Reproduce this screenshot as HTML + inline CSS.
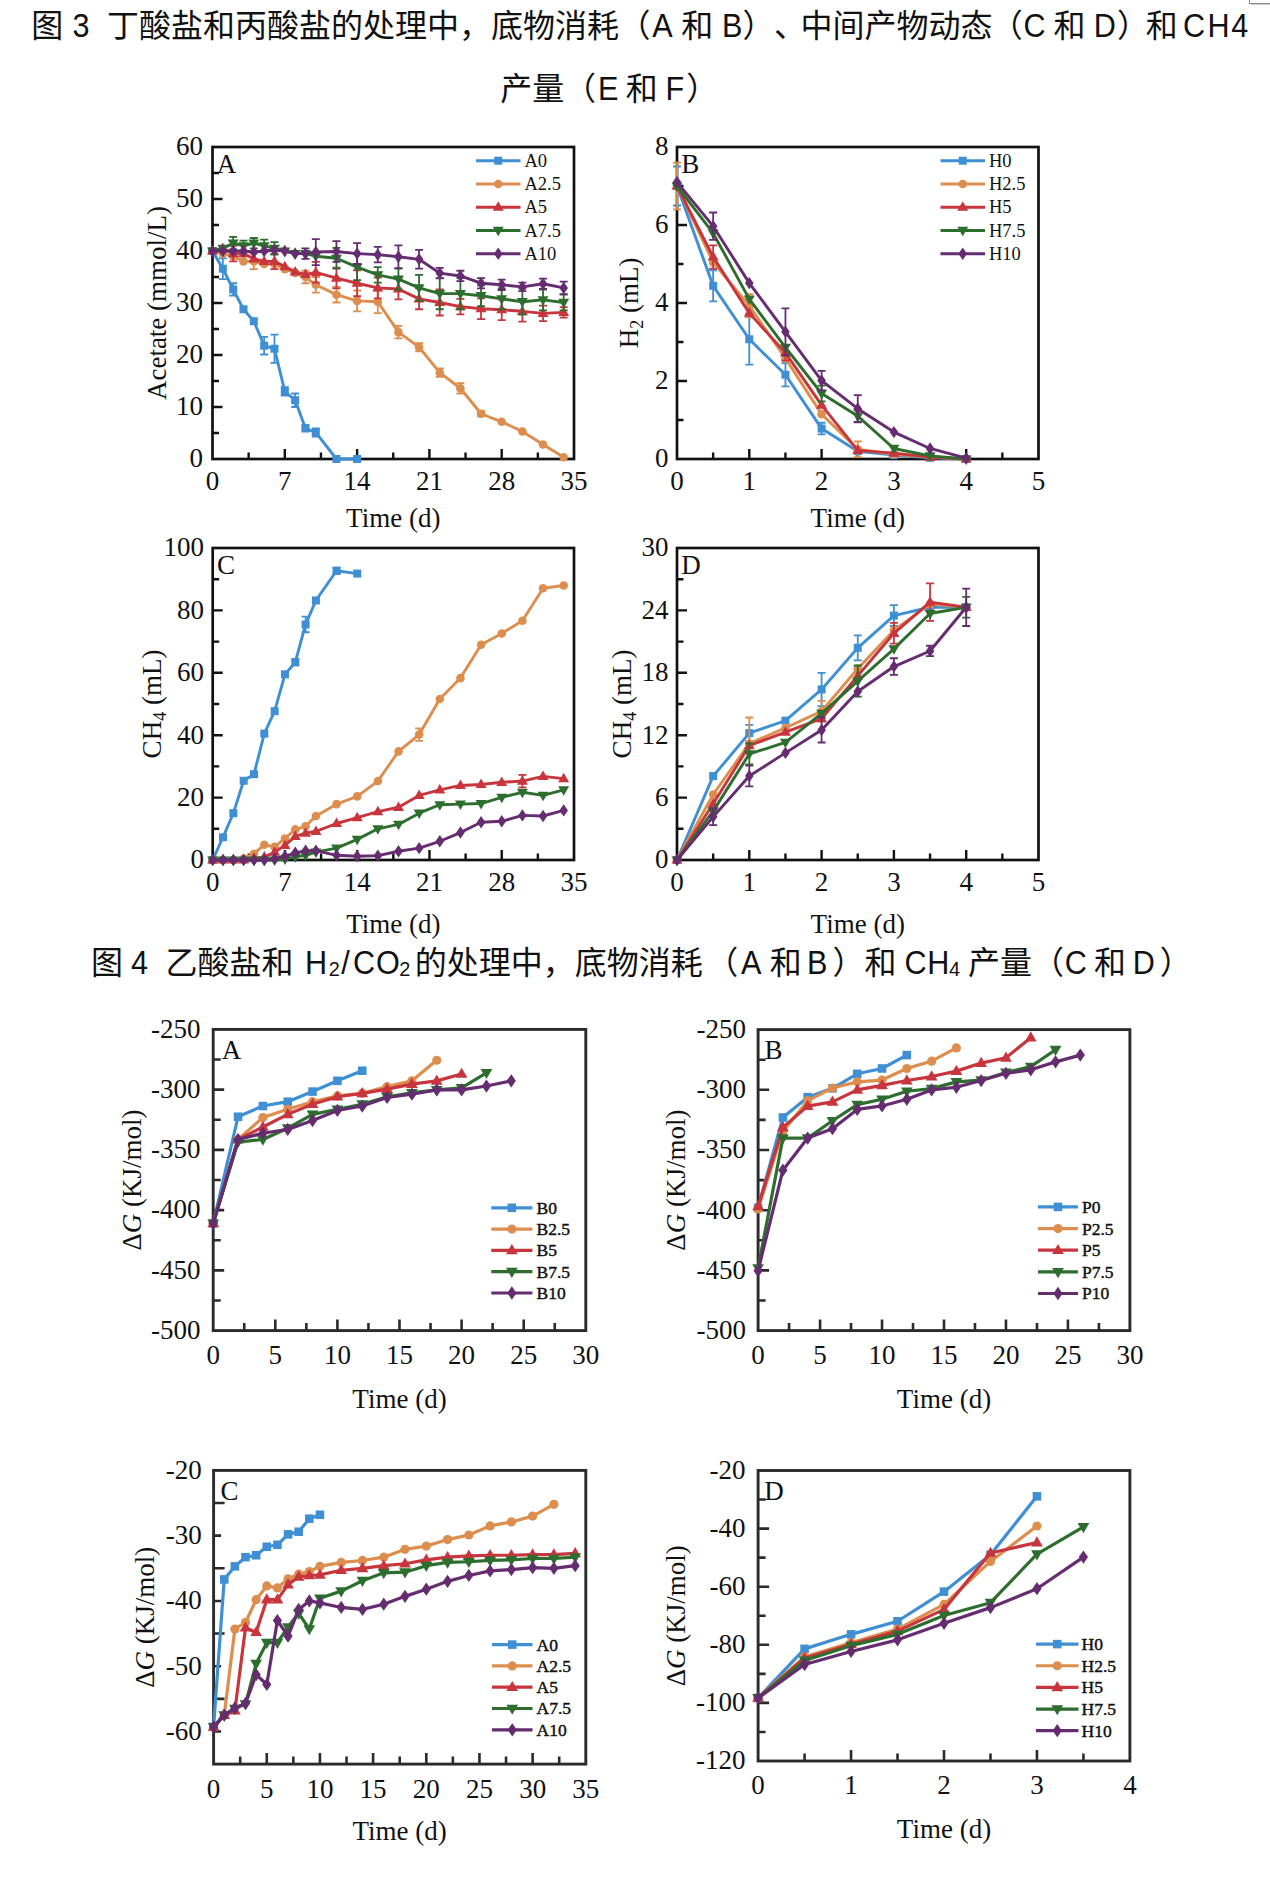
<!DOCTYPE html>
<html><head><meta charset="utf-8"><title>Figure</title>
<style>
html,body{margin:0;padding:0;background:#fff;}
body{width:1270px;height:1878px;overflow:hidden;position:relative;}
svg{position:absolute;left:0;top:0;}
.cap{position:absolute;white-space:pre;text-spacing-trim:space-all;font-family:"Liberation Sans","Noto Sans CJK SC",sans-serif;color:#111;line-height:1;}
</style></head><body>

<svg width="1270" height="1878" viewBox="0 0 1270 1878">
<g>
<rect x="212.5" y="147" width="361.5" height="312" fill="none" stroke="#111" stroke-width="2.7"/>
<path d="M248.65 459V452.5M284.8 459V449M320.95 459V452.5M357.1 459V449M393.25 459V452.5M429.4 459V449M465.55 459V452.5M501.7 459V449M537.85 459V452.5M212.5 433H219M212.5 407H222.5M212.5 381H219M212.5 355H222.5M212.5 329H219M212.5 303H222.5M212.5 277H219M212.5 251H222.5M212.5 225H219M212.5 199H222.5M212.5 173H219" stroke="#111" stroke-width="2.4" fill="none"/>
<path d="M212.5 251 L222.83 268.68 L233.16 289.48 L243.49 309.24 L253.81 321.2 L264.14 345.64 L274.47 348.76 L284.8 391.4 L295.13 400.24 L305.46 428.32 L315.79 432.48 L336.44 459 L357.1 459" fill="none" stroke="#3f8fd4" stroke-width="2.9" stroke-linejoin="round"/>
<path d="M222.83 258.28V279.08M218.83 258.28H226.83M218.83 279.08H226.83" stroke="#3f8fd4" stroke-width="1.8" fill="none"/>
<path d="M233.16 283.24V295.72M229.16 283.24H237.16M229.16 295.72H237.16" stroke="#3f8fd4" stroke-width="1.8" fill="none"/>
<path d="M264.14 336.8V354.48M260.14 336.8H268.14M260.14 354.48H268.14" stroke="#3f8fd4" stroke-width="1.8" fill="none"/>
<path d="M274.47 334.72V362.8M270.47 334.72H278.47M270.47 362.8H278.47" stroke="#3f8fd4" stroke-width="1.8" fill="none"/>
<path d="M284.8 387.24V395.56M280.8 387.24H288.8M280.8 395.56H288.8" stroke="#3f8fd4" stroke-width="1.8" fill="none"/>
<path d="M295.13 393.48V407M291.13 393.48H299.13M291.13 407H299.13" stroke="#3f8fd4" stroke-width="1.8" fill="none"/>
<path d="M305.46 425.2V431.44M301.46 425.2H309.46M301.46 431.44H309.46" stroke="#3f8fd4" stroke-width="1.8" fill="none"/>
<path d="M315.79 428.32V436.64M311.79 428.32H319.79M311.79 436.64H319.79" stroke="#3f8fd4" stroke-width="1.8" fill="none"/>
<rect x="208.5" y="247" width="8" height="8" fill="#3f8fd4"/>
<rect x="218.83" y="264.68" width="8" height="8" fill="#3f8fd4"/>
<rect x="229.16" y="285.48" width="8" height="8" fill="#3f8fd4"/>
<rect x="239.49" y="305.24" width="8" height="8" fill="#3f8fd4"/>
<rect x="249.81" y="317.2" width="8" height="8" fill="#3f8fd4"/>
<rect x="260.14" y="341.64" width="8" height="8" fill="#3f8fd4"/>
<rect x="270.47" y="344.76" width="8" height="8" fill="#3f8fd4"/>
<rect x="280.8" y="387.4" width="8" height="8" fill="#3f8fd4"/>
<rect x="291.13" y="396.24" width="8" height="8" fill="#3f8fd4"/>
<rect x="301.46" y="424.32" width="8" height="8" fill="#3f8fd4"/>
<rect x="311.79" y="428.48" width="8" height="8" fill="#3f8fd4"/>
<rect x="332.44" y="455" width="8" height="8" fill="#3f8fd4"/>
<rect x="353.1" y="455" width="8" height="8" fill="#3f8fd4"/>
<path d="M212.5 251 L222.83 253.6 L233.16 256.2 L243.49 261.4 L253.81 261.4 L264.14 264 L274.47 264 L284.8 269.2 L295.13 272.84 L305.46 277 L315.79 284.8 L336.44 294.68 L357.1 300.92 L377.76 301.7 L398.41 332.12 L419.07 347.2 L439.73 372.68 L460.39 388.28 L481.04 413.76 L501.7 421.82 L522.36 431.44 L543.01 444.44 L563.67 457.18" fill="none" stroke="#dd8e4e" stroke-width="2.9" stroke-linejoin="round"/>
<path d="M253.81 253.6V269.2M249.81 253.6H257.81M249.81 269.2H257.81" stroke="#dd8e4e" stroke-width="1.8" fill="none"/>
<path d="M305.46 270.76V283.24M301.46 270.76H309.46M301.46 283.24H309.46" stroke="#dd8e4e" stroke-width="1.8" fill="none"/>
<path d="M315.79 277V292.6M311.79 277H319.79M311.79 292.6H319.79" stroke="#dd8e4e" stroke-width="1.8" fill="none"/>
<path d="M336.44 286.88V302.48M332.44 286.88H340.44M332.44 302.48H340.44" stroke="#dd8e4e" stroke-width="1.8" fill="none"/>
<path d="M357.1 290.52V311.32M353.1 290.52H361.1M353.1 311.32H361.1" stroke="#dd8e4e" stroke-width="1.8" fill="none"/>
<path d="M377.76 290.26V313.14M373.76 290.26H381.76M373.76 313.14H381.76" stroke="#dd8e4e" stroke-width="1.8" fill="none"/>
<path d="M398.41 325.88V338.36M394.41 325.88H402.41M394.41 338.36H402.41" stroke="#dd8e4e" stroke-width="1.8" fill="none"/>
<path d="M419.07 343.04V351.36M415.07 343.04H423.07M415.07 351.36H423.07" stroke="#dd8e4e" stroke-width="1.8" fill="none"/>
<path d="M439.73 368.52V376.84M435.73 368.52H443.73M435.73 376.84H443.73" stroke="#dd8e4e" stroke-width="1.8" fill="none"/>
<path d="M460.39 383.08V393.48M456.39 383.08H464.39M456.39 393.48H464.39" stroke="#dd8e4e" stroke-width="1.8" fill="none"/>
<path d="M481.04 411.16V416.36M477.04 411.16H485.04M477.04 416.36H485.04" stroke="#dd8e4e" stroke-width="1.8" fill="none"/>
<circle cx="212.5" cy="251" r="4.3" fill="#dd8e4e"/>
<circle cx="222.83" cy="253.6" r="4.3" fill="#dd8e4e"/>
<circle cx="233.16" cy="256.2" r="4.3" fill="#dd8e4e"/>
<circle cx="243.49" cy="261.4" r="4.3" fill="#dd8e4e"/>
<circle cx="253.81" cy="261.4" r="4.3" fill="#dd8e4e"/>
<circle cx="264.14" cy="264" r="4.3" fill="#dd8e4e"/>
<circle cx="274.47" cy="264" r="4.3" fill="#dd8e4e"/>
<circle cx="284.8" cy="269.2" r="4.3" fill="#dd8e4e"/>
<circle cx="295.13" cy="272.84" r="4.3" fill="#dd8e4e"/>
<circle cx="305.46" cy="277" r="4.3" fill="#dd8e4e"/>
<circle cx="315.79" cy="284.8" r="4.3" fill="#dd8e4e"/>
<circle cx="336.44" cy="294.68" r="4.3" fill="#dd8e4e"/>
<circle cx="357.1" cy="300.92" r="4.3" fill="#dd8e4e"/>
<circle cx="377.76" cy="301.7" r="4.3" fill="#dd8e4e"/>
<circle cx="398.41" cy="332.12" r="4.3" fill="#dd8e4e"/>
<circle cx="419.07" cy="347.2" r="4.3" fill="#dd8e4e"/>
<circle cx="439.73" cy="372.68" r="4.3" fill="#dd8e4e"/>
<circle cx="460.39" cy="388.28" r="4.3" fill="#dd8e4e"/>
<circle cx="481.04" cy="413.76" r="4.3" fill="#dd8e4e"/>
<circle cx="501.7" cy="421.82" r="4.3" fill="#dd8e4e"/>
<circle cx="522.36" cy="431.44" r="4.3" fill="#dd8e4e"/>
<circle cx="543.01" cy="444.44" r="4.3" fill="#dd8e4e"/>
<circle cx="563.67" cy="457.18" r="4.3" fill="#dd8e4e"/>
<path d="M212.5 251 L222.83 248.4 L233.16 253.6 L243.49 253.6 L253.81 258.8 L264.14 261.4 L274.47 261.4 L284.8 266.6 L295.13 271.8 L305.46 274.4 L315.79 272.32 L336.44 278.04 L357.1 283.24 L377.76 287.92 L398.41 288.96 L419.07 298.84 L439.73 302.48 L460.39 306.64 L481.04 308.72 L501.7 309.76 L522.36 311.32 L543.01 313.4 L563.67 312.36" fill="none" stroke="#c8353d" stroke-width="2.9" stroke-linejoin="round"/>
<path d="M233.16 245.8V261.4M229.16 245.8H237.16M229.16 261.4H237.16" stroke="#c8353d" stroke-width="1.8" fill="none"/>
<path d="M274.47 253.6V269.2M270.47 253.6H278.47M270.47 269.2H278.47" stroke="#c8353d" stroke-width="1.8" fill="none"/>
<path d="M315.79 261.92V282.72M311.79 261.92H319.79M311.79 282.72H319.79" stroke="#c8353d" stroke-width="1.8" fill="none"/>
<path d="M336.44 267.64V288.44M332.44 267.64H340.44M332.44 288.44H340.44" stroke="#c8353d" stroke-width="1.8" fill="none"/>
<path d="M357.1 270.24V296.24M353.1 270.24H361.1M353.1 296.24H361.1" stroke="#c8353d" stroke-width="1.8" fill="none"/>
<path d="M377.76 277.52V298.32M373.76 277.52H381.76M373.76 298.32H381.76" stroke="#c8353d" stroke-width="1.8" fill="none"/>
<path d="M398.41 278.56V299.36M394.41 278.56H402.41M394.41 299.36H402.41" stroke="#c8353d" stroke-width="1.8" fill="none"/>
<path d="M419.07 288.44V309.24M415.07 288.44H423.07M415.07 309.24H423.07" stroke="#c8353d" stroke-width="1.8" fill="none"/>
<path d="M439.73 289.48V315.48M435.73 289.48H443.73M435.73 315.48H443.73" stroke="#c8353d" stroke-width="1.8" fill="none"/>
<path d="M460.39 298.84V314.44M456.39 298.84H464.39M456.39 314.44H464.39" stroke="#c8353d" stroke-width="1.8" fill="none"/>
<path d="M481.04 298.32V319.12M477.04 298.32H485.04M477.04 319.12H485.04" stroke="#c8353d" stroke-width="1.8" fill="none"/>
<path d="M501.7 299.36V320.16M497.7 299.36H505.7M497.7 320.16H505.7" stroke="#c8353d" stroke-width="1.8" fill="none"/>
<path d="M522.36 300.92V321.72M518.36 300.92H526.36M518.36 321.72H526.36" stroke="#c8353d" stroke-width="1.8" fill="none"/>
<path d="M543.01 305.6V321.2M539.01 305.6H547.01M539.01 321.2H547.01" stroke="#c8353d" stroke-width="1.8" fill="none"/>
<path d="M563.67 307.16V317.56M559.67 307.16H567.67M559.67 317.56H567.67" stroke="#c8353d" stroke-width="1.8" fill="none"/>
<path d="M212.5 245.11L218 254.61L207 254.61Z" fill="#c8353d"/>
<path d="M222.83 242.51L228.33 252.01L217.33 252.01Z" fill="#c8353d"/>
<path d="M233.16 247.71L238.66 257.21L227.66 257.21Z" fill="#c8353d"/>
<path d="M243.49 247.71L248.99 257.21L237.99 257.21Z" fill="#c8353d"/>
<path d="M253.81 252.91L259.31 262.41L248.31 262.41Z" fill="#c8353d"/>
<path d="M264.14 255.51L269.64 265.01L258.64 265.01Z" fill="#c8353d"/>
<path d="M274.47 255.51L279.97 265.01L268.97 265.01Z" fill="#c8353d"/>
<path d="M284.8 260.71L290.3 270.21L279.3 270.21Z" fill="#c8353d"/>
<path d="M295.13 265.91L300.63 275.41L289.63 275.41Z" fill="#c8353d"/>
<path d="M305.46 268.51L310.96 278.01L299.96 278.01Z" fill="#c8353d"/>
<path d="M315.79 266.43L321.29 275.93L310.29 275.93Z" fill="#c8353d"/>
<path d="M336.44 272.15L341.94 281.65L330.94 281.65Z" fill="#c8353d"/>
<path d="M357.1 277.35L362.6 286.85L351.6 286.85Z" fill="#c8353d"/>
<path d="M377.76 282.03L383.26 291.53L372.26 291.53Z" fill="#c8353d"/>
<path d="M398.41 283.07L403.91 292.57L392.91 292.57Z" fill="#c8353d"/>
<path d="M419.07 292.95L424.57 302.45L413.57 302.45Z" fill="#c8353d"/>
<path d="M439.73 296.59L445.23 306.09L434.23 306.09Z" fill="#c8353d"/>
<path d="M460.39 300.75L465.89 310.25L454.89 310.25Z" fill="#c8353d"/>
<path d="M481.04 302.83L486.54 312.33L475.54 312.33Z" fill="#c8353d"/>
<path d="M501.7 303.87L507.2 313.37L496.2 313.37Z" fill="#c8353d"/>
<path d="M522.36 305.43L527.86 314.93L516.86 314.93Z" fill="#c8353d"/>
<path d="M543.01 307.51L548.51 317.01L537.51 317.01Z" fill="#c8353d"/>
<path d="M563.67 306.47L569.17 315.97L558.17 315.97Z" fill="#c8353d"/>
<path d="M212.5 251 L222.83 248.4 L233.16 243.2 L243.49 245.8 L253.81 243.2 L264.14 245.8 L274.47 248.4 L284.8 251 L295.13 253.6 L305.46 253.6 L315.79 256.2 L336.44 258.28 L357.1 267.12 L377.76 274.92 L398.41 279.08 L419.07 287.92 L439.73 293.64 L460.39 293.64 L481.04 295.72 L501.7 298.84 L522.36 301.7 L543.01 299.88 L563.67 302.48" fill="none" stroke="#2d6e2f" stroke-width="2.9" stroke-linejoin="round"/>
<path d="M233.16 236.96V249.44M229.16 236.96H237.16M229.16 249.44H237.16" stroke="#2d6e2f" stroke-width="1.8" fill="none"/>
<path d="M243.49 240.6V251M239.49 240.6H247.49M239.49 251H247.49" stroke="#2d6e2f" stroke-width="1.8" fill="none"/>
<path d="M253.81 238V248.4M249.81 238H257.81M249.81 248.4H257.81" stroke="#2d6e2f" stroke-width="1.8" fill="none"/>
<path d="M264.14 239.56V252.04M260.14 239.56H268.14M260.14 252.04H268.14" stroke="#2d6e2f" stroke-width="1.8" fill="none"/>
<path d="M274.47 242.16V254.64M270.47 242.16H278.47M270.47 254.64H278.47" stroke="#2d6e2f" stroke-width="1.8" fill="none"/>
<path d="M336.44 247.88V268.68M332.44 247.88H340.44M332.44 268.68H340.44" stroke="#2d6e2f" stroke-width="1.8" fill="none"/>
<path d="M357.1 254.12V280.12M353.1 254.12H361.1M353.1 280.12H361.1" stroke="#2d6e2f" stroke-width="1.8" fill="none"/>
<path d="M377.76 267.12V282.72M373.76 267.12H381.76M373.76 282.72H381.76" stroke="#2d6e2f" stroke-width="1.8" fill="none"/>
<path d="M398.41 268.68V289.48M394.41 268.68H402.41M394.41 289.48H402.41" stroke="#2d6e2f" stroke-width="1.8" fill="none"/>
<path d="M419.07 274.92V300.92M415.07 274.92H423.07M415.07 300.92H423.07" stroke="#2d6e2f" stroke-width="1.8" fill="none"/>
<path d="M439.73 278.04V309.24M435.73 278.04H443.73M435.73 309.24H443.73" stroke="#2d6e2f" stroke-width="1.8" fill="none"/>
<path d="M460.39 278.04V309.24M456.39 278.04H464.39M456.39 309.24H464.39" stroke="#2d6e2f" stroke-width="1.8" fill="none"/>
<path d="M481.04 285.32V306.12M477.04 285.32H485.04M477.04 306.12H485.04" stroke="#2d6e2f" stroke-width="1.8" fill="none"/>
<path d="M501.7 288.44V309.24M497.7 288.44H505.7M497.7 309.24H505.7" stroke="#2d6e2f" stroke-width="1.8" fill="none"/>
<path d="M522.36 288.7V314.7M518.36 288.7H526.36M518.36 314.7H526.36" stroke="#2d6e2f" stroke-width="1.8" fill="none"/>
<path d="M543.01 289.48V310.28M539.01 289.48H547.01M539.01 310.28H547.01" stroke="#2d6e2f" stroke-width="1.8" fill="none"/>
<path d="M563.67 294.68V310.28M559.67 294.68H567.67M559.67 310.28H567.67" stroke="#2d6e2f" stroke-width="1.8" fill="none"/>
<path d="M212.5 256.89L218 247.39L207 247.39Z" fill="#2d6e2f"/>
<path d="M222.83 254.29L228.33 244.79L217.33 244.79Z" fill="#2d6e2f"/>
<path d="M233.16 249.09L238.66 239.59L227.66 239.59Z" fill="#2d6e2f"/>
<path d="M243.49 251.69L248.99 242.19L237.99 242.19Z" fill="#2d6e2f"/>
<path d="M253.81 249.09L259.31 239.59L248.31 239.59Z" fill="#2d6e2f"/>
<path d="M264.14 251.69L269.64 242.19L258.64 242.19Z" fill="#2d6e2f"/>
<path d="M274.47 254.29L279.97 244.79L268.97 244.79Z" fill="#2d6e2f"/>
<path d="M284.8 256.89L290.3 247.39L279.3 247.39Z" fill="#2d6e2f"/>
<path d="M295.13 259.49L300.63 249.99L289.63 249.99Z" fill="#2d6e2f"/>
<path d="M305.46 259.49L310.96 249.99L299.96 249.99Z" fill="#2d6e2f"/>
<path d="M315.79 262.09L321.29 252.59L310.29 252.59Z" fill="#2d6e2f"/>
<path d="M336.44 264.17L341.94 254.67L330.94 254.67Z" fill="#2d6e2f"/>
<path d="M357.1 273.01L362.6 263.51L351.6 263.51Z" fill="#2d6e2f"/>
<path d="M377.76 280.81L383.26 271.31L372.26 271.31Z" fill="#2d6e2f"/>
<path d="M398.41 284.97L403.91 275.47L392.91 275.47Z" fill="#2d6e2f"/>
<path d="M419.07 293.81L424.57 284.31L413.57 284.31Z" fill="#2d6e2f"/>
<path d="M439.73 299.53L445.23 290.03L434.23 290.03Z" fill="#2d6e2f"/>
<path d="M460.39 299.53L465.89 290.03L454.89 290.03Z" fill="#2d6e2f"/>
<path d="M481.04 301.61L486.54 292.11L475.54 292.11Z" fill="#2d6e2f"/>
<path d="M501.7 304.73L507.2 295.23L496.2 295.23Z" fill="#2d6e2f"/>
<path d="M522.36 307.59L527.86 298.09L516.86 298.09Z" fill="#2d6e2f"/>
<path d="M543.01 305.77L548.51 296.27L537.51 296.27Z" fill="#2d6e2f"/>
<path d="M563.67 308.37L569.17 298.87L558.17 298.87Z" fill="#2d6e2f"/>
<path d="M212.5 251 L222.83 251 L233.16 251 L243.49 251 L253.81 252.04 L264.14 251 L274.47 249.96 L284.8 251 L295.13 253.6 L305.46 253.6 L315.79 252.04 L336.44 251.52 L357.1 253.6 L377.76 254.64 L398.41 256.72 L419.07 259.32 L439.73 273.1 L460.39 275.96 L481.04 283.24 L501.7 284.8 L522.36 286.88 L543.01 283.76 L563.67 287.92" fill="none" stroke="#652c70" stroke-width="2.9" stroke-linejoin="round"/>
<path d="M305.46 248.4V258.8M301.46 248.4H309.46M301.46 258.8H309.46" stroke="#652c70" stroke-width="1.8" fill="none"/>
<path d="M315.79 239.04V265.04M311.79 239.04H319.79M311.79 265.04H319.79" stroke="#652c70" stroke-width="1.8" fill="none"/>
<path d="M336.44 241.12V261.92M332.44 241.12H340.44M332.44 261.92H340.44" stroke="#652c70" stroke-width="1.8" fill="none"/>
<path d="M357.1 243.2V264M353.1 243.2H361.1M353.1 264H361.1" stroke="#652c70" stroke-width="1.8" fill="none"/>
<path d="M377.76 246.84V262.44M373.76 246.84H381.76M373.76 262.44H381.76" stroke="#652c70" stroke-width="1.8" fill="none"/>
<path d="M398.41 245.28V268.16M394.41 245.28H402.41M394.41 268.16H402.41" stroke="#652c70" stroke-width="1.8" fill="none"/>
<path d="M419.07 249.96V268.68M415.07 249.96H423.07M415.07 268.68H423.07" stroke="#652c70" stroke-width="1.8" fill="none"/>
<path d="M439.73 267.9V278.3M435.73 267.9H443.73M435.73 278.3H443.73" stroke="#652c70" stroke-width="1.8" fill="none"/>
<path d="M460.39 270.76V281.16M456.39 270.76H464.39M456.39 281.16H464.39" stroke="#652c70" stroke-width="1.8" fill="none"/>
<path d="M481.04 278.04V288.44M477.04 278.04H485.04M477.04 288.44H485.04" stroke="#652c70" stroke-width="1.8" fill="none"/>
<path d="M501.7 279.6V290M497.7 279.6H505.7M497.7 290H505.7" stroke="#652c70" stroke-width="1.8" fill="none"/>
<path d="M522.36 282.72V291.04M518.36 282.72H526.36M518.36 291.04H526.36" stroke="#652c70" stroke-width="1.8" fill="none"/>
<path d="M543.01 278.56V288.96M539.01 278.56H547.01M539.01 288.96H547.01" stroke="#652c70" stroke-width="1.8" fill="none"/>
<path d="M563.67 281.68V294.16M559.67 281.68H567.67M559.67 294.16H567.67" stroke="#652c70" stroke-width="1.8" fill="none"/>
<path d="M212.5 244.8L216.8 251L212.5 257.2L208.2 251Z" fill="#652c70"/>
<path d="M222.83 244.8L227.13 251L222.83 257.2L218.53 251Z" fill="#652c70"/>
<path d="M233.16 244.8L237.46 251L233.16 257.2L228.86 251Z" fill="#652c70"/>
<path d="M243.49 244.8L247.79 251L243.49 257.2L239.19 251Z" fill="#652c70"/>
<path d="M253.81 245.84L258.11 252.04L253.81 258.24L249.51 252.04Z" fill="#652c70"/>
<path d="M264.14 244.8L268.44 251L264.14 257.2L259.84 251Z" fill="#652c70"/>
<path d="M274.47 243.76L278.77 249.96L274.47 256.16L270.17 249.96Z" fill="#652c70"/>
<path d="M284.8 244.8L289.1 251L284.8 257.2L280.5 251Z" fill="#652c70"/>
<path d="M295.13 247.4L299.43 253.6L295.13 259.8L290.83 253.6Z" fill="#652c70"/>
<path d="M305.46 247.4L309.76 253.6L305.46 259.8L301.16 253.6Z" fill="#652c70"/>
<path d="M315.79 245.84L320.09 252.04L315.79 258.24L311.49 252.04Z" fill="#652c70"/>
<path d="M336.44 245.32L340.74 251.52L336.44 257.72L332.14 251.52Z" fill="#652c70"/>
<path d="M357.1 247.4L361.4 253.6L357.1 259.8L352.8 253.6Z" fill="#652c70"/>
<path d="M377.76 248.44L382.06 254.64L377.76 260.84L373.46 254.64Z" fill="#652c70"/>
<path d="M398.41 250.52L402.71 256.72L398.41 262.92L394.11 256.72Z" fill="#652c70"/>
<path d="M419.07 253.12L423.37 259.32L419.07 265.52L414.77 259.32Z" fill="#652c70"/>
<path d="M439.73 266.9L444.03 273.1L439.73 279.3L435.43 273.1Z" fill="#652c70"/>
<path d="M460.39 269.76L464.69 275.96L460.39 282.16L456.09 275.96Z" fill="#652c70"/>
<path d="M481.04 277.04L485.34 283.24L481.04 289.44L476.74 283.24Z" fill="#652c70"/>
<path d="M501.7 278.6L506 284.8L501.7 291L497.4 284.8Z" fill="#652c70"/>
<path d="M522.36 280.68L526.66 286.88L522.36 293.08L518.06 286.88Z" fill="#652c70"/>
<path d="M543.01 277.56L547.31 283.76L543.01 289.96L538.71 283.76Z" fill="#652c70"/>
<path d="M563.67 281.72L567.97 287.92L563.67 294.12L559.37 287.92Z" fill="#652c70"/>
<text x="212.5" y="489.6" font-family="Liberation Serif, serif" font-size="27" text-anchor="middle" fill="#111">0</text>
<text x="284.8" y="489.6" font-family="Liberation Serif, serif" font-size="27" text-anchor="middle" fill="#111">7</text>
<text x="357.1" y="489.6" font-family="Liberation Serif, serif" font-size="27" text-anchor="middle" fill="#111">14</text>
<text x="429.4" y="489.6" font-family="Liberation Serif, serif" font-size="27" text-anchor="middle" fill="#111">21</text>
<text x="501.7" y="489.6" font-family="Liberation Serif, serif" font-size="27" text-anchor="middle" fill="#111">28</text>
<text x="574" y="489.6" font-family="Liberation Serif, serif" font-size="27" text-anchor="middle" fill="#111">35</text>
<text x="203" y="467.37" font-family="Liberation Serif, serif" font-size="27" text-anchor="end" fill="#111">0</text>
<text x="203" y="415.37" font-family="Liberation Serif, serif" font-size="27" text-anchor="end" fill="#111">10</text>
<text x="203" y="363.37" font-family="Liberation Serif, serif" font-size="27" text-anchor="end" fill="#111">20</text>
<text x="203" y="311.37" font-family="Liberation Serif, serif" font-size="27" text-anchor="end" fill="#111">30</text>
<text x="203" y="259.37" font-family="Liberation Serif, serif" font-size="27" text-anchor="end" fill="#111">40</text>
<text x="203" y="207.37" font-family="Liberation Serif, serif" font-size="27" text-anchor="end" fill="#111">50</text>
<text x="203" y="155.37" font-family="Liberation Serif, serif" font-size="27" text-anchor="end" fill="#111">60</text>
<text x="393.25" y="526.8" font-family="Liberation Serif, serif" font-size="27" text-anchor="middle" fill="#111">Time (d)</text>
<text transform="translate(166.3 303) rotate(-90)" font-family="Liberation Serif, serif" font-size="27" text-anchor="middle" fill="#111">Acetate (mmol/L)</text>
<text x="216.7" y="173" font-family="Liberation Serif, serif" font-size="27" fill="#111">A</text>
<path d="M476 160.7H520.5" stroke="#3f8fd4" stroke-width="2.9"/>
<rect x="494.25" y="156.7" width="8" height="8" fill="#3f8fd4"/>
<text x="524.5" y="166.99" font-family="Liberation Serif, serif" font-size="18.5" fill="#111" >A0</text>
<path d="M476 183.95H520.5" stroke="#dd8e4e" stroke-width="2.9"/>
<circle cx="498.25" cy="183.95" r="4.3" fill="#dd8e4e"/>
<text x="524.5" y="190.24" font-family="Liberation Serif, serif" font-size="18.5" fill="#111" >A2.5</text>
<path d="M476 207.2H520.5" stroke="#c8353d" stroke-width="2.9"/>
<path d="M498.25 201.31L503.75 210.81L492.75 210.81Z" fill="#c8353d"/>
<text x="524.5" y="213.49" font-family="Liberation Serif, serif" font-size="18.5" fill="#111" >A5</text>
<path d="M476 230.45H520.5" stroke="#2d6e2f" stroke-width="2.9"/>
<path d="M498.25 236.34L503.75 226.84L492.75 226.84Z" fill="#2d6e2f"/>
<text x="524.5" y="236.74" font-family="Liberation Serif, serif" font-size="18.5" fill="#111" >A7.5</text>
<path d="M476 253.7H520.5" stroke="#652c70" stroke-width="2.9"/>
<path d="M498.25 247.5L502.55 253.7L498.25 259.9L493.95 253.7Z" fill="#652c70"/>
<text x="524.5" y="259.99" font-family="Liberation Serif, serif" font-size="18.5" fill="#111" >A10</text>
</g>
<g>
<rect x="677" y="147" width="361.5" height="312" fill="none" stroke="#111" stroke-width="2.7"/>
<path d="M713.15 459V452.5M749.3 459V449M785.45 459V452.5M821.6 459V449M857.75 459V452.5M893.9 459V449M930.05 459V452.5M966.2 459V449M1002.35 459V452.5M677 420H683.5M677 381H687M677 342H683.5M677 303H687M677 264H683.5M677 225H687M677 186H683.5" stroke="#111" stroke-width="2.4" fill="none"/>
<path d="M677 186 L713.15 285.84 L749.3 339.27 L785.45 374.76 L821.6 428.58 L857.75 451.2 L893.9 455.1 L930.05 457.83 L966.2 459" fill="none" stroke="#3f8fd4" stroke-width="2.9" stroke-linejoin="round"/>
<path d="M677 166.5V205.5M673 166.5H681M673 205.5H681" stroke="#3f8fd4" stroke-width="1.8" fill="none"/>
<path d="M713.15 270.24V301.44M709.15 270.24H717.15M709.15 301.44H717.15" stroke="#3f8fd4" stroke-width="1.8" fill="none"/>
<path d="M749.3 313.92V364.62M745.3 313.92H753.3M745.3 364.62H753.3" stroke="#3f8fd4" stroke-width="1.8" fill="none"/>
<path d="M785.45 363.06V386.46M781.45 363.06H789.45M781.45 386.46H789.45" stroke="#3f8fd4" stroke-width="1.8" fill="none"/>
<path d="M821.6 422.73V434.43M817.6 422.73H825.6M817.6 434.43H825.6" stroke="#3f8fd4" stroke-width="1.8" fill="none"/>
<rect x="673" y="182" width="8" height="8" fill="#3f8fd4"/>
<rect x="709.15" y="281.84" width="8" height="8" fill="#3f8fd4"/>
<rect x="745.3" y="335.27" width="8" height="8" fill="#3f8fd4"/>
<rect x="781.45" y="370.76" width="8" height="8" fill="#3f8fd4"/>
<rect x="817.6" y="424.58" width="8" height="8" fill="#3f8fd4"/>
<rect x="853.75" y="447.2" width="8" height="8" fill="#3f8fd4"/>
<rect x="889.9" y="451.1" width="8" height="8" fill="#3f8fd4"/>
<rect x="926.05" y="453.83" width="8" height="8" fill="#3f8fd4"/>
<rect x="962.2" y="455" width="8" height="8" fill="#3f8fd4"/>
<path d="M677 186 L713.15 262.44 L749.3 305.73 L785.45 358.38 L821.6 414.15 L857.75 449.25 L893.9 454.32 L930.05 457.05 L966.2 459" fill="none" stroke="#dd8e4e" stroke-width="2.9" stroke-linejoin="round"/>
<path d="M677 162.6V209.4M673 162.6H681M673 209.4H681" stroke="#dd8e4e" stroke-width="1.8" fill="none"/>
<path d="M749.3 294.03V317.43M745.3 294.03H753.3M745.3 317.43H753.3" stroke="#dd8e4e" stroke-width="1.8" fill="none"/>
<path d="M857.75 441.45V457.05M853.75 441.45H861.75M853.75 457.05H861.75" stroke="#dd8e4e" stroke-width="1.8" fill="none"/>
<circle cx="677" cy="186" r="4.3" fill="#dd8e4e"/>
<circle cx="713.15" cy="262.44" r="4.3" fill="#dd8e4e"/>
<circle cx="749.3" cy="305.73" r="4.3" fill="#dd8e4e"/>
<circle cx="785.45" cy="358.38" r="4.3" fill="#dd8e4e"/>
<circle cx="821.6" cy="414.15" r="4.3" fill="#dd8e4e"/>
<circle cx="857.75" cy="449.25" r="4.3" fill="#dd8e4e"/>
<circle cx="893.9" cy="454.32" r="4.3" fill="#dd8e4e"/>
<circle cx="930.05" cy="457.05" r="4.3" fill="#dd8e4e"/>
<circle cx="966.2" cy="459" r="4.3" fill="#dd8e4e"/>
<path d="M677 186 L713.15 256.98 L749.3 313.14 L785.45 352.92 L821.6 405.18 L857.75 450.42 L893.9 453.15 L930.05 457.05 L966.2 459" fill="none" stroke="#c8353d" stroke-width="2.9" stroke-linejoin="round"/>
<path d="M713.15 245.28V268.68M709.15 245.28H717.15M709.15 268.68H717.15" stroke="#c8353d" stroke-width="1.8" fill="none"/>
<path d="M785.45 345.12V360.72M781.45 345.12H789.45M781.45 360.72H789.45" stroke="#c8353d" stroke-width="1.8" fill="none"/>
<path d="M677 180.11L682.5 189.61L671.5 189.61Z" fill="#c8353d"/>
<path d="M713.15 251.09L718.65 260.59L707.65 260.59Z" fill="#c8353d"/>
<path d="M749.3 307.25L754.8 316.75L743.8 316.75Z" fill="#c8353d"/>
<path d="M785.45 347.03L790.95 356.53L779.95 356.53Z" fill="#c8353d"/>
<path d="M821.6 399.29L827.1 408.79L816.1 408.79Z" fill="#c8353d"/>
<path d="M857.75 444.53L863.25 454.03L852.25 454.03Z" fill="#c8353d"/>
<path d="M893.9 447.26L899.4 456.76L888.4 456.76Z" fill="#c8353d"/>
<path d="M930.05 451.16L935.55 460.66L924.55 460.66Z" fill="#c8353d"/>
<path d="M966.2 453.11L971.7 462.61L960.7 462.61Z" fill="#c8353d"/>
<path d="M677 186 L713.15 233.19 L749.3 299.1 L785.45 347.46 L821.6 393.48 L857.75 416.1 L893.9 448.47 L930.05 455.88 L966.2 459" fill="none" stroke="#2d6e2f" stroke-width="2.9" stroke-linejoin="round"/>
<path d="M821.6 385.68V401.28M817.6 385.68H825.6M817.6 401.28H825.6" stroke="#2d6e2f" stroke-width="1.8" fill="none"/>
<path d="M857.75 410.25V421.95M853.75 410.25H861.75M853.75 421.95H861.75" stroke="#2d6e2f" stroke-width="1.8" fill="none"/>
<path d="M677 191.89L682.5 182.39L671.5 182.39Z" fill="#2d6e2f"/>
<path d="M713.15 239.08L718.65 229.58L707.65 229.58Z" fill="#2d6e2f"/>
<path d="M749.3 304.99L754.8 295.49L743.8 295.49Z" fill="#2d6e2f"/>
<path d="M785.45 353.35L790.95 343.85L779.95 343.85Z" fill="#2d6e2f"/>
<path d="M821.6 399.37L827.1 389.87L816.1 389.87Z" fill="#2d6e2f"/>
<path d="M857.75 421.99L863.25 412.49L852.25 412.49Z" fill="#2d6e2f"/>
<path d="M893.9 454.36L899.4 444.86L888.4 444.86Z" fill="#2d6e2f"/>
<path d="M930.05 461.77L935.55 452.27L924.55 452.27Z" fill="#2d6e2f"/>
<path d="M966.2 464.89L971.7 455.39L960.7 455.39Z" fill="#2d6e2f"/>
<path d="M677 182.1 L713.15 226.17 L749.3 283.11 L785.45 331.86 L821.6 380.61 L857.75 408.69 L893.9 432.09 L930.05 448.47 L966.2 458.22" fill="none" stroke="#652c70" stroke-width="2.9" stroke-linejoin="round"/>
<path d="M713.15 212.52V239.82M709.15 212.52H717.15M709.15 239.82H717.15" stroke="#652c70" stroke-width="1.8" fill="none"/>
<path d="M785.45 308.46V355.26M781.45 308.46H789.45M781.45 355.26H789.45" stroke="#652c70" stroke-width="1.8" fill="none"/>
<path d="M821.6 370.86V390.36M817.6 370.86H825.6M817.6 390.36H825.6" stroke="#652c70" stroke-width="1.8" fill="none"/>
<path d="M857.75 395.04V422.34M853.75 395.04H861.75M853.75 422.34H861.75" stroke="#652c70" stroke-width="1.8" fill="none"/>
<path d="M677 175.9L681.3 182.1L677 188.3L672.7 182.1Z" fill="#652c70"/>
<path d="M713.15 219.97L717.45 226.17L713.15 232.37L708.85 226.17Z" fill="#652c70"/>
<path d="M749.3 276.91L753.6 283.11L749.3 289.31L745 283.11Z" fill="#652c70"/>
<path d="M785.45 325.66L789.75 331.86L785.45 338.06L781.15 331.86Z" fill="#652c70"/>
<path d="M821.6 374.41L825.9 380.61L821.6 386.81L817.3 380.61Z" fill="#652c70"/>
<path d="M857.75 402.49L862.05 408.69L857.75 414.89L853.45 408.69Z" fill="#652c70"/>
<path d="M893.9 425.89L898.2 432.09L893.9 438.29L889.6 432.09Z" fill="#652c70"/>
<path d="M930.05 442.27L934.35 448.47L930.05 454.67L925.75 448.47Z" fill="#652c70"/>
<path d="M966.2 452.02L970.5 458.22L966.2 464.42L961.9 458.22Z" fill="#652c70"/>
<text x="677" y="489.6" font-family="Liberation Serif, serif" font-size="27" text-anchor="middle" fill="#111">0</text>
<text x="749.3" y="489.6" font-family="Liberation Serif, serif" font-size="27" text-anchor="middle" fill="#111">1</text>
<text x="821.6" y="489.6" font-family="Liberation Serif, serif" font-size="27" text-anchor="middle" fill="#111">2</text>
<text x="893.9" y="489.6" font-family="Liberation Serif, serif" font-size="27" text-anchor="middle" fill="#111">3</text>
<text x="966.2" y="489.6" font-family="Liberation Serif, serif" font-size="27" text-anchor="middle" fill="#111">4</text>
<text x="1038.5" y="489.6" font-family="Liberation Serif, serif" font-size="27" text-anchor="middle" fill="#111">5</text>
<text x="668.5" y="467.37" font-family="Liberation Serif, serif" font-size="27" text-anchor="end" fill="#111">0</text>
<text x="668.5" y="389.37" font-family="Liberation Serif, serif" font-size="27" text-anchor="end" fill="#111">2</text>
<text x="668.5" y="311.37" font-family="Liberation Serif, serif" font-size="27" text-anchor="end" fill="#111">4</text>
<text x="668.5" y="233.37" font-family="Liberation Serif, serif" font-size="27" text-anchor="end" fill="#111">6</text>
<text x="668.5" y="155.37" font-family="Liberation Serif, serif" font-size="27" text-anchor="end" fill="#111">8</text>
<text x="857.75" y="526.8" font-family="Liberation Serif, serif" font-size="27" text-anchor="middle" fill="#111">Time (d)</text>
<text transform="translate(638 303) rotate(-90)" font-family="Liberation Serif, serif" font-size="27" text-anchor="middle" fill="#111">H<tspan font-size="18" dy="5">2</tspan><tspan dy="-5"> (mL)</tspan></text>
<text x="681.2" y="173" font-family="Liberation Serif, serif" font-size="27" fill="#111">B</text>
<path d="M940.5 160.7H985" stroke="#3f8fd4" stroke-width="2.9"/>
<rect x="958.75" y="156.7" width="8" height="8" fill="#3f8fd4"/>
<text x="989" y="166.99" font-family="Liberation Serif, serif" font-size="18.5" fill="#111" >H0</text>
<path d="M940.5 183.95H985" stroke="#dd8e4e" stroke-width="2.9"/>
<circle cx="962.75" cy="183.95" r="4.3" fill="#dd8e4e"/>
<text x="989" y="190.24" font-family="Liberation Serif, serif" font-size="18.5" fill="#111" >H2.5</text>
<path d="M940.5 207.2H985" stroke="#c8353d" stroke-width="2.9"/>
<path d="M962.75 201.31L968.25 210.81L957.25 210.81Z" fill="#c8353d"/>
<text x="989" y="213.49" font-family="Liberation Serif, serif" font-size="18.5" fill="#111" >H5</text>
<path d="M940.5 230.45H985" stroke="#2d6e2f" stroke-width="2.9"/>
<path d="M962.75 236.34L968.25 226.84L957.25 226.84Z" fill="#2d6e2f"/>
<text x="989" y="236.74" font-family="Liberation Serif, serif" font-size="18.5" fill="#111" >H7.5</text>
<path d="M940.5 253.7H985" stroke="#652c70" stroke-width="2.9"/>
<path d="M962.75 247.5L967.05 253.7L962.75 259.9L958.45 253.7Z" fill="#652c70"/>
<text x="989" y="259.99" font-family="Liberation Serif, serif" font-size="18.5" fill="#111" >H10</text>
</g>
<g>
<rect x="212.7" y="548" width="361.3" height="312" fill="none" stroke="#111" stroke-width="2.7"/>
<path d="M248.83 860V853.5M284.96 860V850M321.09 860V853.5M357.22 860V850M393.35 860V853.5M429.48 860V850M465.61 860V853.5M501.74 860V850M537.87 860V853.5M212.7 828.8H219.2M212.7 797.6H222.7M212.7 766.4H219.2M212.7 735.2H222.7M212.7 704H219.2M212.7 672.8H222.7M212.7 641.6H219.2M212.7 610.4H222.7M212.7 579.2H219.2" stroke="#111" stroke-width="2.4" fill="none"/>
<path d="M212.7 860 L223.02 837.22 L233.35 813.2 L243.67 780.75 L253.99 774.2 L264.31 733.64 L274.64 711.18 L284.96 674.36 L295.28 662.19 L305.61 624.44 L315.93 600.42 L336.57 570.78 L357.22 573.58" fill="none" stroke="#3f8fd4" stroke-width="2.9" stroke-linejoin="round"/>
<path d="M295.28 659.07V665.31M291.28 659.07H299.28M291.28 665.31H299.28" stroke="#3f8fd4" stroke-width="1.8" fill="none"/>
<path d="M305.61 616.64V632.24M301.61 616.64H309.61M301.61 632.24H309.61" stroke="#3f8fd4" stroke-width="1.8" fill="none"/>
<path d="M336.57 567.66V573.9M332.57 567.66H340.57M332.57 573.9H340.57" stroke="#3f8fd4" stroke-width="1.8" fill="none"/>
<rect x="208.7" y="856" width="8" height="8" fill="#3f8fd4"/>
<rect x="219.02" y="833.22" width="8" height="8" fill="#3f8fd4"/>
<rect x="229.35" y="809.2" width="8" height="8" fill="#3f8fd4"/>
<rect x="239.67" y="776.75" width="8" height="8" fill="#3f8fd4"/>
<rect x="249.99" y="770.2" width="8" height="8" fill="#3f8fd4"/>
<rect x="260.31" y="729.64" width="8" height="8" fill="#3f8fd4"/>
<rect x="270.64" y="707.18" width="8" height="8" fill="#3f8fd4"/>
<rect x="280.96" y="670.36" width="8" height="8" fill="#3f8fd4"/>
<rect x="291.28" y="658.19" width="8" height="8" fill="#3f8fd4"/>
<rect x="301.61" y="620.44" width="8" height="8" fill="#3f8fd4"/>
<rect x="311.93" y="596.42" width="8" height="8" fill="#3f8fd4"/>
<rect x="332.57" y="566.78" width="8" height="8" fill="#3f8fd4"/>
<rect x="353.22" y="569.58" width="8" height="8" fill="#3f8fd4"/>
<path d="M212.7 860 L223.02 860 L233.35 860 L243.67 858.44 L253.99 853.76 L264.31 844.71 L274.64 846.9 L284.96 838.47 L295.28 829.42 L305.61 826.3 L315.93 816.01 L336.57 804.15 L357.22 796.35 L377.87 781.06 L398.51 751.42 L419.16 734.58 L439.8 699.01 L460.45 678.1 L481.09 644.72 L501.74 633.49 L522.39 620.7 L543.03 588.25 L563.68 585.44" fill="none" stroke="#dd8e4e" stroke-width="2.9" stroke-linejoin="round"/>
<path d="M419.16 728.34V740.82M415.16 728.34H423.16M415.16 740.82H423.16" stroke="#dd8e4e" stroke-width="1.8" fill="none"/>
<circle cx="212.7" cy="860" r="4.3" fill="#dd8e4e"/>
<circle cx="223.02" cy="860" r="4.3" fill="#dd8e4e"/>
<circle cx="233.35" cy="860" r="4.3" fill="#dd8e4e"/>
<circle cx="243.67" cy="858.44" r="4.3" fill="#dd8e4e"/>
<circle cx="253.99" cy="853.76" r="4.3" fill="#dd8e4e"/>
<circle cx="264.31" cy="844.71" r="4.3" fill="#dd8e4e"/>
<circle cx="274.64" cy="846.9" r="4.3" fill="#dd8e4e"/>
<circle cx="284.96" cy="838.47" r="4.3" fill="#dd8e4e"/>
<circle cx="295.28" cy="829.42" r="4.3" fill="#dd8e4e"/>
<circle cx="305.61" cy="826.3" r="4.3" fill="#dd8e4e"/>
<circle cx="315.93" cy="816.01" r="4.3" fill="#dd8e4e"/>
<circle cx="336.57" cy="804.15" r="4.3" fill="#dd8e4e"/>
<circle cx="357.22" cy="796.35" r="4.3" fill="#dd8e4e"/>
<circle cx="377.87" cy="781.06" r="4.3" fill="#dd8e4e"/>
<circle cx="398.51" cy="751.42" r="4.3" fill="#dd8e4e"/>
<circle cx="419.16" cy="734.58" r="4.3" fill="#dd8e4e"/>
<circle cx="439.8" cy="699.01" r="4.3" fill="#dd8e4e"/>
<circle cx="460.45" cy="678.1" r="4.3" fill="#dd8e4e"/>
<circle cx="481.09" cy="644.72" r="4.3" fill="#dd8e4e"/>
<circle cx="501.74" cy="633.49" r="4.3" fill="#dd8e4e"/>
<circle cx="522.39" cy="620.7" r="4.3" fill="#dd8e4e"/>
<circle cx="543.03" cy="588.25" r="4.3" fill="#dd8e4e"/>
<circle cx="563.68" cy="585.44" r="4.3" fill="#dd8e4e"/>
<path d="M212.7 860 L223.02 860 L233.35 860 L243.67 860 L253.99 858.44 L264.31 856.88 L274.64 852.2 L284.96 845.34 L295.28 836.29 L305.61 833.17 L315.93 831.3 L336.57 823.5 L357.22 817.57 L377.87 811.64 L398.51 807.27 L419.16 795.42 L439.8 789.8 L460.45 785.43 L481.09 784.5 L501.74 782.31 L522.39 781.06 L543.03 776.38 L563.68 778.57" fill="none" stroke="#c8353d" stroke-width="2.9" stroke-linejoin="round"/>
<path d="M522.39 774.82V787.3M518.39 774.82H526.39M518.39 787.3H526.39" stroke="#c8353d" stroke-width="1.8" fill="none"/>
<path d="M212.7 854.11L218.2 863.61L207.2 863.61Z" fill="#c8353d"/>
<path d="M223.02 854.11L228.52 863.61L217.52 863.61Z" fill="#c8353d"/>
<path d="M233.35 854.11L238.85 863.61L227.85 863.61Z" fill="#c8353d"/>
<path d="M243.67 854.11L249.17 863.61L238.17 863.61Z" fill="#c8353d"/>
<path d="M253.99 852.55L259.49 862.05L248.49 862.05Z" fill="#c8353d"/>
<path d="M264.31 850.99L269.81 860.49L258.81 860.49Z" fill="#c8353d"/>
<path d="M274.64 846.31L280.14 855.81L269.14 855.81Z" fill="#c8353d"/>
<path d="M284.96 839.45L290.46 848.95L279.46 848.95Z" fill="#c8353d"/>
<path d="M295.28 830.4L300.78 839.9L289.78 839.9Z" fill="#c8353d"/>
<path d="M305.61 827.28L311.11 836.78L300.11 836.78Z" fill="#c8353d"/>
<path d="M315.93 825.41L321.43 834.91L310.43 834.91Z" fill="#c8353d"/>
<path d="M336.57 817.61L342.07 827.11L331.07 827.11Z" fill="#c8353d"/>
<path d="M357.22 811.68L362.72 821.18L351.72 821.18Z" fill="#c8353d"/>
<path d="M377.87 805.75L383.37 815.25L372.37 815.25Z" fill="#c8353d"/>
<path d="M398.51 801.38L404.01 810.88L393.01 810.88Z" fill="#c8353d"/>
<path d="M419.16 789.53L424.66 799.03L413.66 799.03Z" fill="#c8353d"/>
<path d="M439.8 783.91L445.3 793.41L434.3 793.41Z" fill="#c8353d"/>
<path d="M460.45 779.54L465.95 789.04L454.95 789.04Z" fill="#c8353d"/>
<path d="M481.09 778.61L486.59 788.11L475.59 788.11Z" fill="#c8353d"/>
<path d="M501.74 776.42L507.24 785.92L496.24 785.92Z" fill="#c8353d"/>
<path d="M522.39 775.17L527.89 784.67L516.89 784.67Z" fill="#c8353d"/>
<path d="M543.03 770.49L548.53 779.99L537.53 779.99Z" fill="#c8353d"/>
<path d="M563.68 772.68L569.18 782.18L558.18 782.18Z" fill="#c8353d"/>
<path d="M212.7 860 L223.02 860 L233.35 860 L243.67 860 L253.99 860 L264.31 860 L274.64 860 L284.96 859.06 L295.28 856.88 L305.61 855.32 L315.93 852.2 L336.57 848.14 L357.22 839.41 L377.87 828.8 L398.51 824.43 L419.16 813.2 L439.8 804.78 L460.45 804.15 L481.09 803.53 L501.74 797.29 L522.39 792.3 L543.03 795.42 L563.68 789.8" fill="none" stroke="#2d6e2f" stroke-width="2.9" stroke-linejoin="round"/>
<path d="M212.7 865.89L218.2 856.39L207.2 856.39Z" fill="#2d6e2f"/>
<path d="M223.02 865.89L228.52 856.39L217.52 856.39Z" fill="#2d6e2f"/>
<path d="M233.35 865.89L238.85 856.39L227.85 856.39Z" fill="#2d6e2f"/>
<path d="M243.67 865.89L249.17 856.39L238.17 856.39Z" fill="#2d6e2f"/>
<path d="M253.99 865.89L259.49 856.39L248.49 856.39Z" fill="#2d6e2f"/>
<path d="M264.31 865.89L269.81 856.39L258.81 856.39Z" fill="#2d6e2f"/>
<path d="M274.64 865.89L280.14 856.39L269.14 856.39Z" fill="#2d6e2f"/>
<path d="M284.96 864.95L290.46 855.45L279.46 855.45Z" fill="#2d6e2f"/>
<path d="M295.28 862.77L300.78 853.27L289.78 853.27Z" fill="#2d6e2f"/>
<path d="M305.61 861.21L311.11 851.71L300.11 851.71Z" fill="#2d6e2f"/>
<path d="M315.93 858.09L321.43 848.59L310.43 848.59Z" fill="#2d6e2f"/>
<path d="M336.57 854.03L342.07 844.53L331.07 844.53Z" fill="#2d6e2f"/>
<path d="M357.22 845.3L362.72 835.8L351.72 835.8Z" fill="#2d6e2f"/>
<path d="M377.87 834.69L383.37 825.19L372.37 825.19Z" fill="#2d6e2f"/>
<path d="M398.51 830.32L404.01 820.82L393.01 820.82Z" fill="#2d6e2f"/>
<path d="M419.16 819.09L424.66 809.59L413.66 809.59Z" fill="#2d6e2f"/>
<path d="M439.8 810.67L445.3 801.17L434.3 801.17Z" fill="#2d6e2f"/>
<path d="M460.45 810.04L465.95 800.54L454.95 800.54Z" fill="#2d6e2f"/>
<path d="M481.09 809.42L486.59 799.92L475.59 799.92Z" fill="#2d6e2f"/>
<path d="M501.74 803.18L507.24 793.68L496.24 793.68Z" fill="#2d6e2f"/>
<path d="M522.39 798.19L527.89 788.69L516.89 788.69Z" fill="#2d6e2f"/>
<path d="M543.03 801.31L548.53 791.81L537.53 791.81Z" fill="#2d6e2f"/>
<path d="M563.68 795.69L569.18 786.19L558.18 786.19Z" fill="#2d6e2f"/>
<path d="M212.7 860 L223.02 860 L233.35 860 L243.67 860 L253.99 860 L264.31 860 L274.64 858.75 L284.96 856.26 L295.28 852.82 L305.61 850.64 L315.93 850.64 L336.57 855.32 L357.22 856.26 L377.87 855.63 L398.51 851.26 L419.16 848.14 L439.8 841.28 L460.45 832.54 L481.09 822.25 L501.74 821.31 L522.39 815.38 L543.03 816.01 L563.68 810.39" fill="none" stroke="#652c70" stroke-width="2.9" stroke-linejoin="round"/>
<path d="M212.7 853.8L217 860L212.7 866.2L208.4 860Z" fill="#652c70"/>
<path d="M223.02 853.8L227.32 860L223.02 866.2L218.72 860Z" fill="#652c70"/>
<path d="M233.35 853.8L237.65 860L233.35 866.2L229.05 860Z" fill="#652c70"/>
<path d="M243.67 853.8L247.97 860L243.67 866.2L239.37 860Z" fill="#652c70"/>
<path d="M253.99 853.8L258.29 860L253.99 866.2L249.69 860Z" fill="#652c70"/>
<path d="M264.31 853.8L268.61 860L264.31 866.2L260.01 860Z" fill="#652c70"/>
<path d="M274.64 852.55L278.94 858.75L274.64 864.95L270.34 858.75Z" fill="#652c70"/>
<path d="M284.96 850.06L289.26 856.26L284.96 862.46L280.66 856.26Z" fill="#652c70"/>
<path d="M295.28 846.62L299.58 852.82L295.28 859.02L290.98 852.82Z" fill="#652c70"/>
<path d="M305.61 844.44L309.91 850.64L305.61 856.84L301.31 850.64Z" fill="#652c70"/>
<path d="M315.93 844.44L320.23 850.64L315.93 856.84L311.63 850.64Z" fill="#652c70"/>
<path d="M336.57 849.12L340.87 855.32L336.57 861.52L332.27 855.32Z" fill="#652c70"/>
<path d="M357.22 850.06L361.52 856.26L357.22 862.46L352.92 856.26Z" fill="#652c70"/>
<path d="M377.87 849.43L382.17 855.63L377.87 861.83L373.57 855.63Z" fill="#652c70"/>
<path d="M398.51 845.06L402.81 851.26L398.51 857.46L394.21 851.26Z" fill="#652c70"/>
<path d="M419.16 841.94L423.46 848.14L419.16 854.34L414.86 848.14Z" fill="#652c70"/>
<path d="M439.8 835.08L444.1 841.28L439.8 847.48L435.5 841.28Z" fill="#652c70"/>
<path d="M460.45 826.34L464.75 832.54L460.45 838.74L456.15 832.54Z" fill="#652c70"/>
<path d="M481.09 816.05L485.39 822.25L481.09 828.45L476.79 822.25Z" fill="#652c70"/>
<path d="M501.74 815.11L506.04 821.31L501.74 827.51L497.44 821.31Z" fill="#652c70"/>
<path d="M522.39 809.18L526.69 815.38L522.39 821.58L518.09 815.38Z" fill="#652c70"/>
<path d="M543.03 809.81L547.33 816.01L543.03 822.21L538.73 816.01Z" fill="#652c70"/>
<path d="M563.68 804.19L567.98 810.39L563.68 816.59L559.38 810.39Z" fill="#652c70"/>
<text x="212.7" y="890.7" font-family="Liberation Serif, serif" font-size="27" text-anchor="middle" fill="#111">0</text>
<text x="284.96" y="890.7" font-family="Liberation Serif, serif" font-size="27" text-anchor="middle" fill="#111">7</text>
<text x="357.22" y="890.7" font-family="Liberation Serif, serif" font-size="27" text-anchor="middle" fill="#111">14</text>
<text x="429.48" y="890.7" font-family="Liberation Serif, serif" font-size="27" text-anchor="middle" fill="#111">21</text>
<text x="501.74" y="890.7" font-family="Liberation Serif, serif" font-size="27" text-anchor="middle" fill="#111">28</text>
<text x="574" y="890.7" font-family="Liberation Serif, serif" font-size="27" text-anchor="middle" fill="#111">35</text>
<text x="204" y="868.37" font-family="Liberation Serif, serif" font-size="27" text-anchor="end" fill="#111">0</text>
<text x="204" y="805.97" font-family="Liberation Serif, serif" font-size="27" text-anchor="end" fill="#111">20</text>
<text x="204" y="743.57" font-family="Liberation Serif, serif" font-size="27" text-anchor="end" fill="#111">40</text>
<text x="204" y="681.17" font-family="Liberation Serif, serif" font-size="27" text-anchor="end" fill="#111">60</text>
<text x="204" y="618.77" font-family="Liberation Serif, serif" font-size="27" text-anchor="end" fill="#111">80</text>
<text x="204" y="556.37" font-family="Liberation Serif, serif" font-size="27" text-anchor="end" fill="#111">100</text>
<text x="393.35" y="933.2" font-family="Liberation Serif, serif" font-size="27" text-anchor="middle" fill="#111">Time (d)</text>
<text transform="translate(160.5 704) rotate(-90)" font-family="Liberation Serif, serif" font-size="27" text-anchor="middle" fill="#111">CH<tspan font-size="18" dy="5">4</tspan><tspan dy="-5"> (mL)</tspan></text>
<text x="216.9" y="574" font-family="Liberation Serif, serif" font-size="27" fill="#111">C</text>
</g>
<g>
<rect x="677" y="548" width="361.5" height="312" fill="none" stroke="#111" stroke-width="2.7"/>
<path d="M713.15 860V853.5M749.3 860V850M785.45 860V853.5M821.6 860V850M857.75 860V853.5M893.9 860V850M930.05 860V853.5M966.2 860V850M1002.35 860V853.5M677 828.8H683.5M677 797.6H687M677 766.4H683.5M677 735.2H687M677 704H683.5M677 672.8H687M677 641.6H683.5M677 610.4H687M677 579.2H683.5" stroke="#111" stroke-width="2.4" fill="none"/>
<path d="M677 860 L713.15 776.07 L749.3 733.12 L785.45 720.64 L821.6 689.44 L857.75 647.84 L893.9 615.6 L930.05 607.28 L966.2 607.28" fill="none" stroke="#3f8fd4" stroke-width="2.9" stroke-linejoin="round"/>
<path d="M749.3 724.8V741.44M745.3 724.8H753.3M745.3 741.44H753.3" stroke="#3f8fd4" stroke-width="1.8" fill="none"/>
<path d="M821.6 672.8V706.08M817.6 672.8H825.6M817.6 706.08H825.6" stroke="#3f8fd4" stroke-width="1.8" fill="none"/>
<path d="M857.75 635.36V660.32M853.75 635.36H861.75M853.75 660.32H861.75" stroke="#3f8fd4" stroke-width="1.8" fill="none"/>
<path d="M893.9 605.2V626M889.9 605.2H897.9M889.9 626H897.9" stroke="#3f8fd4" stroke-width="1.8" fill="none"/>
<rect x="673" y="856" width="8" height="8" fill="#3f8fd4"/>
<rect x="709.15" y="772.07" width="8" height="8" fill="#3f8fd4"/>
<rect x="745.3" y="729.12" width="8" height="8" fill="#3f8fd4"/>
<rect x="781.45" y="716.64" width="8" height="8" fill="#3f8fd4"/>
<rect x="817.6" y="685.44" width="8" height="8" fill="#3f8fd4"/>
<rect x="853.75" y="643.84" width="8" height="8" fill="#3f8fd4"/>
<rect x="889.9" y="611.6" width="8" height="8" fill="#3f8fd4"/>
<rect x="926.05" y="603.28" width="8" height="8" fill="#3f8fd4"/>
<rect x="962.2" y="603.28" width="8" height="8" fill="#3f8fd4"/>
<path d="M677 860 L713.15 794.48 L749.3 743.52 L785.45 727.92 L821.6 711.28 L857.75 668.64 L893.9 630.16 L930.05 604.16 L966.2 607.28" fill="none" stroke="#dd8e4e" stroke-width="2.9" stroke-linejoin="round"/>
<path d="M749.3 717.52V743.52M745.3 717.52H753.3M745.3 743.52H753.3" stroke="#dd8e4e" stroke-width="1.8" fill="none"/>
<path d="M821.6 700.88V721.68M817.6 700.88H825.6M817.6 721.68H825.6" stroke="#dd8e4e" stroke-width="1.8" fill="none"/>
<circle cx="677" cy="860" r="4.3" fill="#dd8e4e"/>
<circle cx="713.15" cy="794.48" r="4.3" fill="#dd8e4e"/>
<circle cx="749.3" cy="743.52" r="4.3" fill="#dd8e4e"/>
<circle cx="785.45" cy="727.92" r="4.3" fill="#dd8e4e"/>
<circle cx="821.6" cy="711.28" r="4.3" fill="#dd8e4e"/>
<circle cx="857.75" cy="668.64" r="4.3" fill="#dd8e4e"/>
<circle cx="893.9" cy="630.16" r="4.3" fill="#dd8e4e"/>
<circle cx="930.05" cy="604.16" r="4.3" fill="#dd8e4e"/>
<circle cx="966.2" cy="607.28" r="4.3" fill="#dd8e4e"/>
<path d="M677 860 L713.15 803.84 L749.3 745.6 L785.45 732.08 L821.6 718.56 L857.75 675.92 L893.9 633.28 L930.05 602.08 L966.2 607.28" fill="none" stroke="#c8353d" stroke-width="2.9" stroke-linejoin="round"/>
<path d="M893.9 622.88V643.68M889.9 622.88H897.9M889.9 643.68H897.9" stroke="#c8353d" stroke-width="1.8" fill="none"/>
<path d="M930.05 583.36V620.8M926.05 583.36H934.05M926.05 620.8H934.05" stroke="#c8353d" stroke-width="1.8" fill="none"/>
<path d="M677 854.11L682.5 863.61L671.5 863.61Z" fill="#c8353d"/>
<path d="M713.15 797.95L718.65 807.45L707.65 807.45Z" fill="#c8353d"/>
<path d="M749.3 739.71L754.8 749.21L743.8 749.21Z" fill="#c8353d"/>
<path d="M785.45 726.19L790.95 735.69L779.95 735.69Z" fill="#c8353d"/>
<path d="M821.6 712.67L827.1 722.17L816.1 722.17Z" fill="#c8353d"/>
<path d="M857.75 670.03L863.25 679.53L852.25 679.53Z" fill="#c8353d"/>
<path d="M893.9 627.39L899.4 636.89L888.4 636.89Z" fill="#c8353d"/>
<path d="M930.05 596.19L935.55 605.69L924.55 605.69Z" fill="#c8353d"/>
<path d="M966.2 601.39L971.7 610.89L960.7 610.89Z" fill="#c8353d"/>
<path d="M677 860 L713.15 811.12 L749.3 753.92 L785.45 742.48 L821.6 713.36 L857.75 681.12 L893.9 648.88 L930.05 613.52 L966.2 607.28" fill="none" stroke="#2d6e2f" stroke-width="2.9" stroke-linejoin="round"/>
<path d="M749.3 743.52V764.32M745.3 743.52H753.3M745.3 764.32H753.3" stroke="#2d6e2f" stroke-width="1.8" fill="none"/>
<path d="M857.75 665.52V696.72M853.75 665.52H861.75M853.75 696.72H861.75" stroke="#2d6e2f" stroke-width="1.8" fill="none"/>
<path d="M966.2 596.88V617.68M962.2 596.88H970.2M962.2 617.68H970.2" stroke="#2d6e2f" stroke-width="1.8" fill="none"/>
<path d="M677 865.89L682.5 856.39L671.5 856.39Z" fill="#2d6e2f"/>
<path d="M713.15 817.01L718.65 807.51L707.65 807.51Z" fill="#2d6e2f"/>
<path d="M749.3 759.81L754.8 750.31L743.8 750.31Z" fill="#2d6e2f"/>
<path d="M785.45 748.37L790.95 738.87L779.95 738.87Z" fill="#2d6e2f"/>
<path d="M821.6 719.25L827.1 709.75L816.1 709.75Z" fill="#2d6e2f"/>
<path d="M857.75 687.01L863.25 677.51L852.25 677.51Z" fill="#2d6e2f"/>
<path d="M893.9 654.77L899.4 645.27L888.4 645.27Z" fill="#2d6e2f"/>
<path d="M930.05 619.41L935.55 609.91L924.55 609.91Z" fill="#2d6e2f"/>
<path d="M966.2 613.17L971.7 603.67L960.7 603.67Z" fill="#2d6e2f"/>
<path d="M677 860 L713.15 816.84 L749.3 776.07 L785.45 752.88 L821.6 730 L857.75 691.52 L893.9 666.56 L930.05 650.96 L966.2 607.28" fill="none" stroke="#652c70" stroke-width="2.9" stroke-linejoin="round"/>
<path d="M713.15 808.52V825.16M709.15 808.52H717.15M709.15 825.16H717.15" stroke="#652c70" stroke-width="1.8" fill="none"/>
<path d="M749.3 765.67V786.47M745.3 765.67H753.3M745.3 786.47H753.3" stroke="#652c70" stroke-width="1.8" fill="none"/>
<path d="M821.6 717.52V742.48M817.6 717.52H825.6M817.6 742.48H825.6" stroke="#652c70" stroke-width="1.8" fill="none"/>
<path d="M893.9 658.24V674.88M889.9 658.24H897.9M889.9 674.88H897.9" stroke="#652c70" stroke-width="1.8" fill="none"/>
<path d="M930.05 645.76V656.16M926.05 645.76H934.05M926.05 656.16H934.05" stroke="#652c70" stroke-width="1.8" fill="none"/>
<path d="M966.2 588.56V626M962.2 588.56H970.2M962.2 626H970.2" stroke="#652c70" stroke-width="1.8" fill="none"/>
<path d="M677 853.8L681.3 860L677 866.2L672.7 860Z" fill="#652c70"/>
<path d="M713.15 810.64L717.45 816.84L713.15 823.04L708.85 816.84Z" fill="#652c70"/>
<path d="M749.3 769.87L753.6 776.07L749.3 782.27L745 776.07Z" fill="#652c70"/>
<path d="M785.45 746.68L789.75 752.88L785.45 759.08L781.15 752.88Z" fill="#652c70"/>
<path d="M821.6 723.8L825.9 730L821.6 736.2L817.3 730Z" fill="#652c70"/>
<path d="M857.75 685.32L862.05 691.52L857.75 697.72L853.45 691.52Z" fill="#652c70"/>
<path d="M893.9 660.36L898.2 666.56L893.9 672.76L889.6 666.56Z" fill="#652c70"/>
<path d="M930.05 644.76L934.35 650.96L930.05 657.16L925.75 650.96Z" fill="#652c70"/>
<path d="M966.2 601.08L970.5 607.28L966.2 613.48L961.9 607.28Z" fill="#652c70"/>
<text x="677" y="890.7" font-family="Liberation Serif, serif" font-size="27" text-anchor="middle" fill="#111">0</text>
<text x="749.3" y="890.7" font-family="Liberation Serif, serif" font-size="27" text-anchor="middle" fill="#111">1</text>
<text x="821.6" y="890.7" font-family="Liberation Serif, serif" font-size="27" text-anchor="middle" fill="#111">2</text>
<text x="893.9" y="890.7" font-family="Liberation Serif, serif" font-size="27" text-anchor="middle" fill="#111">3</text>
<text x="966.2" y="890.7" font-family="Liberation Serif, serif" font-size="27" text-anchor="middle" fill="#111">4</text>
<text x="1038.5" y="890.7" font-family="Liberation Serif, serif" font-size="27" text-anchor="middle" fill="#111">5</text>
<text x="668.5" y="868.37" font-family="Liberation Serif, serif" font-size="27" text-anchor="end" fill="#111">0</text>
<text x="668.5" y="805.97" font-family="Liberation Serif, serif" font-size="27" text-anchor="end" fill="#111">6</text>
<text x="668.5" y="743.57" font-family="Liberation Serif, serif" font-size="27" text-anchor="end" fill="#111">12</text>
<text x="668.5" y="681.17" font-family="Liberation Serif, serif" font-size="27" text-anchor="end" fill="#111">18</text>
<text x="668.5" y="618.77" font-family="Liberation Serif, serif" font-size="27" text-anchor="end" fill="#111">24</text>
<text x="668.5" y="556.37" font-family="Liberation Serif, serif" font-size="27" text-anchor="end" fill="#111">30</text>
<text x="857.75" y="933.2" font-family="Liberation Serif, serif" font-size="27" text-anchor="middle" fill="#111">Time (d)</text>
<text transform="translate(630.5 704) rotate(-90)" font-family="Liberation Serif, serif" font-size="27" text-anchor="middle" fill="#111">CH<tspan font-size="18" dy="5">4</tspan><tspan dy="-5"> (mL)</tspan></text>
<text x="681.2" y="574" font-family="Liberation Serif, serif" font-size="27" fill="#111">D</text>
</g>
<g>
<rect x="213.2" y="1029.4" width="372.6" height="301.2" fill="none" stroke="#2b2b2b" stroke-width="2.9"/>
<path d="M244.25 1330.6V1323.1M275.3 1330.6V1319.6M306.35 1330.6V1323.1M337.4 1330.6V1319.6M368.45 1330.6V1323.1M399.5 1330.6V1319.6M430.55 1330.6V1323.1M461.6 1330.6V1319.6M492.65 1330.6V1323.1M523.7 1330.6V1319.6M554.75 1330.6V1323.1M213.2 1300.48H220.7M213.2 1270.36H224.2M213.2 1240.24H220.7M213.2 1210.12H224.2M213.2 1180H220.7M213.2 1149.88H224.2M213.2 1119.76H220.7M213.2 1089.64H224.2M213.2 1059.52H220.7" stroke="#2b2b2b" stroke-width="2.6" fill="none"/>
<path d="M213.2 1223.37 L238.04 1116.75 L262.88 1106.03 L287.72 1101.69 L312.56 1091.57 L337.4 1080.84 L362.24 1070.72" fill="none" stroke="#3f8fd4" stroke-width="3.2" stroke-linejoin="round"/>
<rect x="208.92" y="1219.09" width="8.56" height="8.56" fill="#3f8fd4"/>
<rect x="233.76" y="1112.47" width="8.56" height="8.56" fill="#3f8fd4"/>
<rect x="258.6" y="1101.75" width="8.56" height="8.56" fill="#3f8fd4"/>
<rect x="283.44" y="1097.41" width="8.56" height="8.56" fill="#3f8fd4"/>
<rect x="308.28" y="1087.29" width="8.56" height="8.56" fill="#3f8fd4"/>
<rect x="333.12" y="1076.56" width="8.56" height="8.56" fill="#3f8fd4"/>
<rect x="357.96" y="1066.44" width="8.56" height="8.56" fill="#3f8fd4"/>
<path d="M213.2 1223.37 L238.04 1139.52 L262.88 1117.59 L287.72 1109.28 L312.56 1101.69 L337.4 1095.9 L362.24 1093.37 L387.08 1086.63 L411.92 1080.84 L436.76 1060.24" fill="none" stroke="#dd8e4e" stroke-width="3.2" stroke-linejoin="round"/>
<circle cx="213.2" cy="1223.37" r="4.6" fill="#dd8e4e"/>
<circle cx="238.04" cy="1139.52" r="4.6" fill="#dd8e4e"/>
<circle cx="262.88" cy="1117.59" r="4.6" fill="#dd8e4e"/>
<circle cx="287.72" cy="1109.28" r="4.6" fill="#dd8e4e"/>
<circle cx="312.56" cy="1101.69" r="4.6" fill="#dd8e4e"/>
<circle cx="337.4" cy="1095.9" r="4.6" fill="#dd8e4e"/>
<circle cx="362.24" cy="1093.37" r="4.6" fill="#dd8e4e"/>
<circle cx="387.08" cy="1086.63" r="4.6" fill="#dd8e4e"/>
<circle cx="411.92" cy="1080.84" r="4.6" fill="#dd8e4e"/>
<circle cx="436.76" cy="1060.24" r="4.6" fill="#dd8e4e"/>
<path d="M213.2 1223.37 L238.04 1139.52 L262.88 1126.99 L287.72 1114.34 L312.56 1104.22 L337.4 1096.75 L362.24 1093.37 L387.08 1089.16 L411.92 1084.1 L436.76 1080.84 L461.6 1073.98" fill="none" stroke="#c8353d" stroke-width="3.2" stroke-linejoin="round"/>
<path d="M213.2 1217.07L219.08 1227.24L207.31 1227.24Z" fill="#c8353d"/>
<path d="M238.04 1133.22L243.92 1143.38L232.16 1143.38Z" fill="#c8353d"/>
<path d="M262.88 1120.69L268.76 1130.85L257 1130.85Z" fill="#c8353d"/>
<path d="M287.72 1108.04L293.6 1118.2L281.83 1118.2Z" fill="#c8353d"/>
<path d="M312.56 1097.92L318.44 1108.08L306.67 1108.08Z" fill="#c8353d"/>
<path d="M337.4 1090.45L343.28 1100.61L331.51 1100.61Z" fill="#c8353d"/>
<path d="M362.24 1087.07L368.12 1097.24L356.36 1097.24Z" fill="#c8353d"/>
<path d="M387.08 1082.86L392.96 1093.02L381.19 1093.02Z" fill="#c8353d"/>
<path d="M411.92 1077.8L417.8 1087.96L406.03 1087.96Z" fill="#c8353d"/>
<path d="M436.76 1074.54L442.64 1084.71L430.88 1084.71Z" fill="#c8353d"/>
<path d="M461.6 1067.68L467.48 1077.84L455.71 1077.84Z" fill="#c8353d"/>
<path d="M213.2 1223.37 L238.04 1142.05 L262.88 1139.52 L287.72 1128.19 L312.56 1114.34 L337.4 1109.28 L362.24 1104.22 L387.08 1096.75 L411.92 1092.89 L436.76 1089.88 L461.6 1087.83 L486.44 1072.77" fill="none" stroke="#2d6e2f" stroke-width="3.2" stroke-linejoin="round"/>
<path d="M213.2 1229.68L219.08 1219.51L207.31 1219.51Z" fill="#2d6e2f"/>
<path d="M238.04 1148.35L243.92 1138.19L232.16 1138.19Z" fill="#2d6e2f"/>
<path d="M262.88 1145.82L268.76 1135.66L257 1135.66Z" fill="#2d6e2f"/>
<path d="M287.72 1134.5L293.6 1124.33L281.83 1124.33Z" fill="#2d6e2f"/>
<path d="M312.56 1120.64L318.44 1110.48L306.67 1110.48Z" fill="#2d6e2f"/>
<path d="M337.4 1115.58L343.28 1105.42L331.51 1105.42Z" fill="#2d6e2f"/>
<path d="M362.24 1110.52L368.12 1100.36L356.36 1100.36Z" fill="#2d6e2f"/>
<path d="M387.08 1103.05L392.96 1092.89L381.19 1092.89Z" fill="#2d6e2f"/>
<path d="M411.92 1099.2L417.8 1089.03L406.03 1089.03Z" fill="#2d6e2f"/>
<path d="M436.76 1096.18L442.64 1086.02L430.88 1086.02Z" fill="#2d6e2f"/>
<path d="M461.6 1094.14L467.48 1083.97L455.71 1083.97Z" fill="#2d6e2f"/>
<path d="M486.44 1079.08L492.32 1068.91L480.55 1068.91Z" fill="#2d6e2f"/>
<path d="M213.2 1223.37 L238.04 1139.52 L262.88 1133.25 L287.72 1129.4 L312.56 1120.6 L337.4 1110.48 L362.24 1106.03 L387.08 1097.47 L411.92 1094.22 L436.76 1089.88 L461.6 1089.88 L486.44 1086.03 L511.28 1080.84" fill="none" stroke="#652c70" stroke-width="3.2" stroke-linejoin="round"/>
<path d="M213.2 1216.74L217.8 1223.37L213.2 1230.01L208.6 1223.37Z" fill="#652c70"/>
<path d="M238.04 1132.88L242.64 1139.52L238.04 1146.15L233.44 1139.52Z" fill="#652c70"/>
<path d="M262.88 1126.62L267.48 1133.25L262.88 1139.89L258.28 1133.25Z" fill="#652c70"/>
<path d="M287.72 1122.76L292.32 1129.4L287.72 1136.03L283.12 1129.4Z" fill="#652c70"/>
<path d="M312.56 1113.97L317.16 1120.6L312.56 1127.24L307.96 1120.6Z" fill="#652c70"/>
<path d="M337.4 1103.85L342 1110.48L337.4 1117.12L332.8 1110.48Z" fill="#652c70"/>
<path d="M362.24 1099.39L366.84 1106.03L362.24 1112.66L357.64 1106.03Z" fill="#652c70"/>
<path d="M387.08 1090.84L391.68 1097.47L387.08 1104.11L382.48 1097.47Z" fill="#652c70"/>
<path d="M411.92 1087.58L416.52 1094.22L411.92 1100.85L407.32 1094.22Z" fill="#652c70"/>
<path d="M436.76 1083.25L441.36 1089.88L436.76 1096.51L432.16 1089.88Z" fill="#652c70"/>
<path d="M461.6 1083.25L466.2 1089.88L461.6 1096.51L457 1089.88Z" fill="#652c70"/>
<path d="M486.44 1079.39L491.04 1086.03L486.44 1092.66L481.84 1086.03Z" fill="#652c70"/>
<path d="M511.28 1074.21L515.88 1080.84L511.28 1087.48L506.68 1080.84Z" fill="#652c70"/>
<text x="213.2" y="1364" font-family="Liberation Serif, serif" font-size="27" text-anchor="middle" fill="#111">0</text>
<text x="275.3" y="1364" font-family="Liberation Serif, serif" font-size="27" text-anchor="middle" fill="#111">5</text>
<text x="337.4" y="1364" font-family="Liberation Serif, serif" font-size="27" text-anchor="middle" fill="#111">10</text>
<text x="399.5" y="1364" font-family="Liberation Serif, serif" font-size="27" text-anchor="middle" fill="#111">15</text>
<text x="461.6" y="1364" font-family="Liberation Serif, serif" font-size="27" text-anchor="middle" fill="#111">20</text>
<text x="523.7" y="1364" font-family="Liberation Serif, serif" font-size="27" text-anchor="middle" fill="#111">25</text>
<text x="585.8" y="1364" font-family="Liberation Serif, serif" font-size="27" text-anchor="middle" fill="#111">30</text>
<text x="200.5" y="1338.97" font-family="Liberation Serif, serif" font-size="27" text-anchor="end" fill="#111">-500</text>
<text x="200.5" y="1278.73" font-family="Liberation Serif, serif" font-size="27" text-anchor="end" fill="#111">-450</text>
<text x="200.5" y="1218.49" font-family="Liberation Serif, serif" font-size="27" text-anchor="end" fill="#111">-400</text>
<text x="200.5" y="1158.25" font-family="Liberation Serif, serif" font-size="27" text-anchor="end" fill="#111">-350</text>
<text x="200.5" y="1098.01" font-family="Liberation Serif, serif" font-size="27" text-anchor="end" fill="#111">-300</text>
<text x="200.5" y="1037.77" font-family="Liberation Serif, serif" font-size="27" text-anchor="end" fill="#111">-250</text>
<text x="399.5" y="1408" font-family="Liberation Serif, serif" font-size="27" text-anchor="middle" fill="#111">Time (d)</text>
<text transform="translate(140.6 1180) rotate(-90)" font-family="Liberation Serif, serif" font-size="27" text-anchor="middle" fill="#111">Δ<tspan font-style="italic">G</tspan> (KJ/mol)</text>
<text x="221.7" y="1058.7" font-family="Liberation Serif, serif" font-size="27" fill="#111">A</text>
<path d="M491.3 1207.8H532.4" stroke="#3f8fd4" stroke-width="3.2"/>
<rect x="507.57" y="1203.52" width="8.56" height="8.56" fill="#3f8fd4"/>
<text x="536.5" y="1213.75" font-family="Liberation Serif, serif" font-size="17.5" fill="#111" stroke="#111" stroke-width="0.45">B0</text>
<path d="M491.3 1229.1H532.4" stroke="#dd8e4e" stroke-width="3.2"/>
<circle cx="511.85" cy="1229.1" r="4.6" fill="#dd8e4e"/>
<text x="536.5" y="1235.05" font-family="Liberation Serif, serif" font-size="17.5" fill="#111" stroke="#111" stroke-width="0.45">B2.5</text>
<path d="M491.3 1250.4H532.4" stroke="#c8353d" stroke-width="3.2"/>
<path d="M511.85 1244.1L517.74 1254.26L505.97 1254.26Z" fill="#c8353d"/>
<text x="536.5" y="1256.35" font-family="Liberation Serif, serif" font-size="17.5" fill="#111" stroke="#111" stroke-width="0.45">B5</text>
<path d="M491.3 1271.7H532.4" stroke="#2d6e2f" stroke-width="3.2"/>
<path d="M511.85 1278L517.74 1267.84L505.97 1267.84Z" fill="#2d6e2f"/>
<text x="536.5" y="1277.65" font-family="Liberation Serif, serif" font-size="17.5" fill="#111" stroke="#111" stroke-width="0.45">B7.5</text>
<path d="M491.3 1293H532.4" stroke="#652c70" stroke-width="3.2"/>
<path d="M511.85 1286.37L516.45 1293L511.85 1299.63L507.25 1293Z" fill="#652c70"/>
<text x="536.5" y="1298.95" font-family="Liberation Serif, serif" font-size="17.5" fill="#111" stroke="#111" stroke-width="0.45">B10</text>
</g>
<g>
<rect x="758.1" y="1029.6" width="371.8" height="301" fill="none" stroke="#2b2b2b" stroke-width="2.9"/>
<path d="M789.08 1330.6V1323.1M820.07 1330.6V1319.6M851.05 1330.6V1323.1M882.03 1330.6V1319.6M913.02 1330.6V1323.1M944 1330.6V1319.6M974.98 1330.6V1323.1M1005.97 1330.6V1319.6M1036.95 1330.6V1323.1M1067.93 1330.6V1319.6M1098.92 1330.6V1323.1M758.1 1300.5H765.6M758.1 1270.4H769.1M758.1 1240.3H765.6M758.1 1210.2H769.1M758.1 1180.1H765.6M758.1 1150H769.1M758.1 1119.9H765.6M758.1 1089.8H769.1M758.1 1059.7H765.6" stroke="#2b2b2b" stroke-width="2.6" fill="none"/>
<path d="M758.1 1207.79 L782.89 1117.49 L807.67 1097.14 L832.46 1088.36 L857.25 1073.79 L882.03 1068.49 L906.82 1055.12" fill="none" stroke="#3f8fd4" stroke-width="3.2" stroke-linejoin="round"/>
<rect x="753.82" y="1203.51" width="8.56" height="8.56" fill="#3f8fd4"/>
<rect x="778.61" y="1113.21" width="8.56" height="8.56" fill="#3f8fd4"/>
<rect x="803.39" y="1092.86" width="8.56" height="8.56" fill="#3f8fd4"/>
<rect x="828.18" y="1084.08" width="8.56" height="8.56" fill="#3f8fd4"/>
<rect x="852.97" y="1069.51" width="8.56" height="8.56" fill="#3f8fd4"/>
<rect x="877.75" y="1064.21" width="8.56" height="8.56" fill="#3f8fd4"/>
<rect x="902.54" y="1050.84" width="8.56" height="8.56" fill="#3f8fd4"/>
<path d="M758.1 1209 L782.89 1131.46 L807.67 1100.64 L832.46 1087.99 L857.25 1081.85 L882.03 1080.05 L906.82 1068.49 L931.61 1061.14 L956.39 1047.9" fill="none" stroke="#dd8e4e" stroke-width="3.2" stroke-linejoin="round"/>
<circle cx="758.1" cy="1209" r="4.6" fill="#dd8e4e"/>
<circle cx="782.89" cy="1131.46" r="4.6" fill="#dd8e4e"/>
<circle cx="807.67" cy="1100.64" r="4.6" fill="#dd8e4e"/>
<circle cx="832.46" cy="1087.99" r="4.6" fill="#dd8e4e"/>
<circle cx="857.25" cy="1081.85" r="4.6" fill="#dd8e4e"/>
<circle cx="882.03" cy="1080.05" r="4.6" fill="#dd8e4e"/>
<circle cx="906.82" cy="1068.49" r="4.6" fill="#dd8e4e"/>
<circle cx="931.61" cy="1061.14" r="4.6" fill="#dd8e4e"/>
<circle cx="956.39" cy="1047.9" r="4.6" fill="#dd8e4e"/>
<path d="M758.1 1206.35 L782.89 1127.36 L807.67 1106.05 L832.46 1101.84 L857.25 1089.92 L882.03 1085.35 L906.82 1080.53 L931.61 1076.56 L956.39 1071.14 L981.18 1063.07 L1005.97 1057.77 L1030.75 1037.67" fill="none" stroke="#c8353d" stroke-width="3.2" stroke-linejoin="round"/>
<path d="M758.1 1200.04L763.99 1210.21L752.22 1210.21Z" fill="#c8353d"/>
<path d="M782.89 1121.06L788.77 1131.23L777 1131.23Z" fill="#c8353d"/>
<path d="M807.67 1099.75L813.56 1109.92L801.79 1109.92Z" fill="#c8353d"/>
<path d="M832.46 1095.54L838.35 1105.7L826.58 1105.7Z" fill="#c8353d"/>
<path d="M857.25 1083.62L863.13 1093.78L851.36 1093.78Z" fill="#c8353d"/>
<path d="M882.03 1079.04L887.92 1089.21L876.15 1089.21Z" fill="#c8353d"/>
<path d="M906.82 1074.23L912.71 1084.39L900.94 1084.39Z" fill="#c8353d"/>
<path d="M931.61 1070.25L937.49 1080.42L925.72 1080.42Z" fill="#c8353d"/>
<path d="M956.39 1064.84L962.28 1075L950.51 1075Z" fill="#c8353d"/>
<path d="M981.18 1056.77L987.07 1066.93L975.3 1066.93Z" fill="#c8353d"/>
<path d="M1005.97 1051.47L1011.85 1061.64L1000.08 1061.64Z" fill="#c8353d"/>
<path d="M1030.75 1031.36L1036.64 1041.53L1024.87 1041.53Z" fill="#c8353d"/>
<path d="M758.1 1267.99 L782.89 1138.08 L807.67 1138.08 L832.46 1120.74 L857.25 1104.61 L882.03 1099.31 L906.82 1091.24 L931.61 1088.6 L956.39 1081.85 L981.18 1080.17 L1005.97 1072.46 L1030.75 1066.56 L1055.54 1049.71" fill="none" stroke="#2d6e2f" stroke-width="3.2" stroke-linejoin="round"/>
<path d="M758.1 1274.29L763.99 1264.13L752.22 1264.13Z" fill="#2d6e2f"/>
<path d="M782.89 1144.38L788.77 1134.22L777 1134.22Z" fill="#2d6e2f"/>
<path d="M807.67 1144.38L813.56 1134.22L801.79 1134.22Z" fill="#2d6e2f"/>
<path d="M832.46 1127.05L838.35 1116.88L826.58 1116.88Z" fill="#2d6e2f"/>
<path d="M857.25 1110.91L863.13 1100.75L851.36 1100.75Z" fill="#2d6e2f"/>
<path d="M882.03 1105.61L887.92 1095.45L876.15 1095.45Z" fill="#2d6e2f"/>
<path d="M906.82 1097.55L912.71 1087.38L900.94 1087.38Z" fill="#2d6e2f"/>
<path d="M931.61 1094.9L937.49 1084.73L925.72 1084.73Z" fill="#2d6e2f"/>
<path d="M956.39 1088.16L962.28 1077.99L950.51 1077.99Z" fill="#2d6e2f"/>
<path d="M981.18 1086.47L987.07 1076.31L975.3 1076.31Z" fill="#2d6e2f"/>
<path d="M1005.97 1078.76L1011.85 1068.6L1000.08 1068.6Z" fill="#2d6e2f"/>
<path d="M1030.75 1072.87L1036.64 1062.7L1024.87 1062.7Z" fill="#2d6e2f"/>
<path d="M1055.54 1056.01L1061.42 1045.84L1049.65 1045.84Z" fill="#2d6e2f"/>
<path d="M758.1 1270.64 L782.89 1170.23 L807.67 1138.08 L832.46 1128.69 L857.25 1109.43 L882.03 1105.93 L906.82 1099.31 L931.61 1089.92 L956.39 1087.27 L981.18 1080.53 L1005.97 1073.31 L1030.75 1069.81 L1055.54 1061.87 L1080.33 1055.12" fill="none" stroke="#652c70" stroke-width="3.2" stroke-linejoin="round"/>
<path d="M758.1 1264.01L762.7 1270.64L758.1 1277.27L753.5 1270.64Z" fill="#652c70"/>
<path d="M782.89 1163.59L787.49 1170.23L782.89 1176.86L778.29 1170.23Z" fill="#652c70"/>
<path d="M807.67 1131.45L812.27 1138.08L807.67 1144.71L803.07 1138.08Z" fill="#652c70"/>
<path d="M832.46 1122.06L837.06 1128.69L832.46 1135.32L827.86 1128.69Z" fill="#652c70"/>
<path d="M857.25 1102.79L861.85 1109.43L857.25 1116.06L852.65 1109.43Z" fill="#652c70"/>
<path d="M882.03 1099.3L886.63 1105.93L882.03 1112.57L877.43 1105.93Z" fill="#652c70"/>
<path d="M906.82 1092.68L911.42 1099.31L906.82 1105.95L902.22 1099.31Z" fill="#652c70"/>
<path d="M931.61 1083.29L936.21 1089.92L931.61 1096.55L927.01 1089.92Z" fill="#652c70"/>
<path d="M956.39 1080.64L960.99 1087.27L956.39 1093.91L951.79 1087.27Z" fill="#652c70"/>
<path d="M981.18 1073.9L985.78 1080.53L981.18 1087.16L976.58 1080.53Z" fill="#652c70"/>
<path d="M1005.97 1066.67L1010.57 1073.31L1005.97 1079.94L1001.37 1073.31Z" fill="#652c70"/>
<path d="M1030.75 1063.18L1035.35 1069.81L1030.75 1076.45L1026.15 1069.81Z" fill="#652c70"/>
<path d="M1055.54 1055.23L1060.14 1061.87L1055.54 1068.5L1050.94 1061.87Z" fill="#652c70"/>
<path d="M1080.33 1048.49L1084.93 1055.12L1080.33 1061.76L1075.73 1055.12Z" fill="#652c70"/>
<text x="758.1" y="1364" font-family="Liberation Serif, serif" font-size="27" text-anchor="middle" fill="#111">0</text>
<text x="820.07" y="1364" font-family="Liberation Serif, serif" font-size="27" text-anchor="middle" fill="#111">5</text>
<text x="882.03" y="1364" font-family="Liberation Serif, serif" font-size="27" text-anchor="middle" fill="#111">10</text>
<text x="944" y="1364" font-family="Liberation Serif, serif" font-size="27" text-anchor="middle" fill="#111">15</text>
<text x="1005.97" y="1364" font-family="Liberation Serif, serif" font-size="27" text-anchor="middle" fill="#111">20</text>
<text x="1067.93" y="1364" font-family="Liberation Serif, serif" font-size="27" text-anchor="middle" fill="#111">25</text>
<text x="1129.9" y="1364" font-family="Liberation Serif, serif" font-size="27" text-anchor="middle" fill="#111">30</text>
<text x="746" y="1338.97" font-family="Liberation Serif, serif" font-size="27" text-anchor="end" fill="#111">-500</text>
<text x="746" y="1278.77" font-family="Liberation Serif, serif" font-size="27" text-anchor="end" fill="#111">-450</text>
<text x="746" y="1218.57" font-family="Liberation Serif, serif" font-size="27" text-anchor="end" fill="#111">-400</text>
<text x="746" y="1158.37" font-family="Liberation Serif, serif" font-size="27" text-anchor="end" fill="#111">-350</text>
<text x="746" y="1098.17" font-family="Liberation Serif, serif" font-size="27" text-anchor="end" fill="#111">-300</text>
<text x="746" y="1037.97" font-family="Liberation Serif, serif" font-size="27" text-anchor="end" fill="#111">-250</text>
<text x="944" y="1408" font-family="Liberation Serif, serif" font-size="27" text-anchor="middle" fill="#111">Time (d)</text>
<text transform="translate(685 1180.1) rotate(-90)" font-family="Liberation Serif, serif" font-size="27" text-anchor="middle" fill="#111">Δ<tspan font-style="italic">G</tspan> (KJ/mol)</text>
<text x="764.6" y="1058.9" font-family="Liberation Serif, serif" font-size="27" fill="#111">B</text>
<path d="M1038 1206.9H1078" stroke="#3f8fd4" stroke-width="3.2"/>
<rect x="1053.72" y="1202.62" width="8.56" height="8.56" fill="#3f8fd4"/>
<text x="1082" y="1212.85" font-family="Liberation Serif, serif" font-size="17.5" fill="#111" stroke="#111" stroke-width="0.45">P0</text>
<path d="M1038 1228.55H1078" stroke="#dd8e4e" stroke-width="3.2"/>
<circle cx="1058" cy="1228.55" r="4.6" fill="#dd8e4e"/>
<text x="1082" y="1234.5" font-family="Liberation Serif, serif" font-size="17.5" fill="#111" stroke="#111" stroke-width="0.45">P2.5</text>
<path d="M1038 1250.2H1078" stroke="#c8353d" stroke-width="3.2"/>
<path d="M1058 1243.9L1063.88 1254.06L1052.12 1254.06Z" fill="#c8353d"/>
<text x="1082" y="1256.15" font-family="Liberation Serif, serif" font-size="17.5" fill="#111" stroke="#111" stroke-width="0.45">P5</text>
<path d="M1038 1271.85H1078" stroke="#2d6e2f" stroke-width="3.2"/>
<path d="M1058 1278.15L1063.88 1267.99L1052.12 1267.99Z" fill="#2d6e2f"/>
<text x="1082" y="1277.8" font-family="Liberation Serif, serif" font-size="17.5" fill="#111" stroke="#111" stroke-width="0.45">P7.5</text>
<path d="M1038 1293.5H1078" stroke="#652c70" stroke-width="3.2"/>
<path d="M1058 1286.87L1062.6 1293.5L1058 1300.13L1053.4 1293.5Z" fill="#652c70"/>
<text x="1082" y="1299.45" font-family="Liberation Serif, serif" font-size="17.5" fill="#111" stroke="#111" stroke-width="0.45">P10</text>
</g>
<g>
<rect x="213.6" y="1470.4" width="372.2" height="293.7" fill="none" stroke="#2b2b2b" stroke-width="2.9"/>
<path d="M240.19 1764.1V1756.6M266.77 1764.1V1753.1M293.36 1764.1V1756.6M319.94 1764.1V1753.1M346.53 1764.1V1756.6M373.11 1764.1V1753.1M399.7 1764.1V1756.6M426.29 1764.1V1753.1M452.87 1764.1V1756.6M479.46 1764.1V1753.1M506.04 1764.1V1756.6M532.63 1764.1V1753.1M559.21 1764.1V1756.6M213.6 1731.47H221.1M213.6 1698.83H224.6M213.6 1666.2H221.1M213.6 1633.57H224.6M213.6 1600.93H221.1M213.6 1568.3H224.6M213.6 1535.67H221.1M213.6 1503.03H224.6" stroke="#2b2b2b" stroke-width="2.6" fill="none"/>
<path d="M213.6 1726.9 L224.23 1579.4 L234.87 1566.34 L245.5 1557.2 L256.14 1555.25 L266.77 1546.76 L277.41 1544.8 L288.04 1534.36 L298.67 1531.75 L309.31 1518.7 L319.94 1514.78" fill="none" stroke="#3f8fd4" stroke-width="3.2" stroke-linejoin="round"/>
<rect x="209.32" y="1722.62" width="8.56" height="8.56" fill="#3f8fd4"/>
<rect x="219.95" y="1575.12" width="8.56" height="8.56" fill="#3f8fd4"/>
<rect x="230.59" y="1562.06" width="8.56" height="8.56" fill="#3f8fd4"/>
<rect x="241.22" y="1552.92" width="8.56" height="8.56" fill="#3f8fd4"/>
<rect x="251.86" y="1550.97" width="8.56" height="8.56" fill="#3f8fd4"/>
<rect x="262.49" y="1542.48" width="8.56" height="8.56" fill="#3f8fd4"/>
<rect x="273.13" y="1540.52" width="8.56" height="8.56" fill="#3f8fd4"/>
<rect x="283.76" y="1530.08" width="8.56" height="8.56" fill="#3f8fd4"/>
<rect x="294.39" y="1527.47" width="8.56" height="8.56" fill="#3f8fd4"/>
<rect x="305.03" y="1514.42" width="8.56" height="8.56" fill="#3f8fd4"/>
<rect x="315.66" y="1510.5" width="8.56" height="8.56" fill="#3f8fd4"/>
<path d="M213.6 1726.9 L224.23 1715.15 L234.87 1629 L245.5 1622.47 L256.14 1599.63 L266.77 1585.92 L277.41 1587.88 L288.04 1578.74 L298.67 1574.17 L309.31 1571.56 L319.94 1566.34 L341.21 1562.43 L362.48 1560.47 L383.75 1557.2 L405.02 1549.37 L426.29 1546.11 L447.55 1539.58 L468.82 1535.01 L490.09 1525.88 L511.36 1521.96 L532.63 1516.09 L553.9 1504.34" fill="none" stroke="#dd8e4e" stroke-width="3.2" stroke-linejoin="round"/>
<circle cx="213.6" cy="1726.9" r="4.6" fill="#dd8e4e"/>
<circle cx="224.23" cy="1715.15" r="4.6" fill="#dd8e4e"/>
<circle cx="234.87" cy="1629" r="4.6" fill="#dd8e4e"/>
<circle cx="245.5" cy="1622.47" r="4.6" fill="#dd8e4e"/>
<circle cx="256.14" cy="1599.63" r="4.6" fill="#dd8e4e"/>
<circle cx="266.77" cy="1585.92" r="4.6" fill="#dd8e4e"/>
<circle cx="277.41" cy="1587.88" r="4.6" fill="#dd8e4e"/>
<circle cx="288.04" cy="1578.74" r="4.6" fill="#dd8e4e"/>
<circle cx="298.67" cy="1574.17" r="4.6" fill="#dd8e4e"/>
<circle cx="309.31" cy="1571.56" r="4.6" fill="#dd8e4e"/>
<circle cx="319.94" cy="1566.34" r="4.6" fill="#dd8e4e"/>
<circle cx="341.21" cy="1562.43" r="4.6" fill="#dd8e4e"/>
<circle cx="362.48" cy="1560.47" r="4.6" fill="#dd8e4e"/>
<circle cx="383.75" cy="1557.2" r="4.6" fill="#dd8e4e"/>
<circle cx="405.02" cy="1549.37" r="4.6" fill="#dd8e4e"/>
<circle cx="426.29" cy="1546.11" r="4.6" fill="#dd8e4e"/>
<circle cx="447.55" cy="1539.58" r="4.6" fill="#dd8e4e"/>
<circle cx="468.82" cy="1535.01" r="4.6" fill="#dd8e4e"/>
<circle cx="490.09" cy="1525.88" r="4.6" fill="#dd8e4e"/>
<circle cx="511.36" cy="1521.96" r="4.6" fill="#dd8e4e"/>
<circle cx="532.63" cy="1516.09" r="4.6" fill="#dd8e4e"/>
<circle cx="553.9" cy="1504.34" r="4.6" fill="#dd8e4e"/>
<path d="M213.6 1726.9 L224.23 1715.15 L234.87 1710.58 L245.5 1627.69 L256.14 1632.26 L266.77 1599.63 L277.41 1599.63 L288.04 1584.62 L298.67 1576.78 L309.31 1575.48 L319.94 1574.83 L341.21 1570.26 L362.48 1568.3 L383.75 1565.69 L405.02 1563.73 L426.29 1559.82 L447.55 1557.2 L468.82 1555.9 L490.09 1555.25 L511.36 1555.25 L532.63 1554.59 L553.9 1554.59 L575.17 1553.29" fill="none" stroke="#c8353d" stroke-width="3.2" stroke-linejoin="round"/>
<path d="M213.6 1720.6L219.48 1730.76L207.72 1730.76Z" fill="#c8353d"/>
<path d="M224.23 1708.85L230.12 1719.01L218.35 1719.01Z" fill="#c8353d"/>
<path d="M234.87 1704.28L240.75 1714.44L228.98 1714.44Z" fill="#c8353d"/>
<path d="M245.5 1621.39L251.39 1631.56L239.62 1631.56Z" fill="#c8353d"/>
<path d="M256.14 1625.96L262.02 1636.12L250.25 1636.12Z" fill="#c8353d"/>
<path d="M266.77 1593.33L272.66 1603.49L260.89 1603.49Z" fill="#c8353d"/>
<path d="M277.41 1593.33L283.29 1603.49L271.52 1603.49Z" fill="#c8353d"/>
<path d="M288.04 1578.31L293.92 1588.48L282.15 1588.48Z" fill="#c8353d"/>
<path d="M298.67 1570.48L304.56 1580.65L292.79 1580.65Z" fill="#c8353d"/>
<path d="M309.31 1569.18L315.19 1579.34L303.42 1579.34Z" fill="#c8353d"/>
<path d="M319.94 1568.52L325.83 1578.69L314.06 1578.69Z" fill="#c8353d"/>
<path d="M341.21 1563.96L347.1 1574.12L335.33 1574.12Z" fill="#c8353d"/>
<path d="M362.48 1562L368.36 1572.16L356.59 1572.16Z" fill="#c8353d"/>
<path d="M383.75 1559.39L389.63 1569.55L377.86 1569.55Z" fill="#c8353d"/>
<path d="M405.02 1557.43L410.9 1567.59L399.13 1567.59Z" fill="#c8353d"/>
<path d="M426.29 1553.51L432.17 1563.68L420.4 1563.68Z" fill="#c8353d"/>
<path d="M447.55 1550.9L453.44 1561.07L441.67 1561.07Z" fill="#c8353d"/>
<path d="M468.82 1549.6L474.71 1559.76L462.94 1559.76Z" fill="#c8353d"/>
<path d="M490.09 1548.94L495.98 1559.11L484.21 1559.11Z" fill="#c8353d"/>
<path d="M511.36 1548.94L517.24 1559.11L505.47 1559.11Z" fill="#c8353d"/>
<path d="M532.63 1548.29L538.51 1558.46L526.74 1558.46Z" fill="#c8353d"/>
<path d="M553.9 1548.29L559.78 1558.46L548.01 1558.46Z" fill="#c8353d"/>
<path d="M575.17 1546.99L581.05 1557.15L569.28 1557.15Z" fill="#c8353d"/>
<path d="M213.6 1726.9 L224.23 1715.15 L234.87 1708.62 L245.5 1704.05 L256.14 1663.59 L266.77 1642.7 L277.41 1642.7 L288.04 1627.04 L298.67 1613.33 L309.31 1629 L319.94 1598.32 L341.21 1591.14 L362.48 1580.7 L383.75 1572.87 L405.02 1572.22 L426.29 1565.69 L447.55 1562.43 L468.82 1561.77 L490.09 1560.47 L511.36 1559.82 L532.63 1558.51 L553.9 1558.51 L575.17 1557.2" fill="none" stroke="#2d6e2f" stroke-width="3.2" stroke-linejoin="round"/>
<path d="M213.6 1733.2L219.48 1723.04L207.72 1723.04Z" fill="#2d6e2f"/>
<path d="M224.23 1721.45L230.12 1711.29L218.35 1711.29Z" fill="#2d6e2f"/>
<path d="M234.87 1714.93L240.75 1704.76L228.98 1704.76Z" fill="#2d6e2f"/>
<path d="M245.5 1710.36L251.39 1700.19L239.62 1700.19Z" fill="#2d6e2f"/>
<path d="M256.14 1669.89L262.02 1659.73L250.25 1659.73Z" fill="#2d6e2f"/>
<path d="M266.77 1649.01L272.66 1638.84L260.89 1638.84Z" fill="#2d6e2f"/>
<path d="M277.41 1649.01L283.29 1638.84L271.52 1638.84Z" fill="#2d6e2f"/>
<path d="M288.04 1633.34L293.92 1623.18L282.15 1623.18Z" fill="#2d6e2f"/>
<path d="M298.67 1619.64L304.56 1609.47L292.79 1609.47Z" fill="#2d6e2f"/>
<path d="M309.31 1635.3L315.19 1625.14L303.42 1625.14Z" fill="#2d6e2f"/>
<path d="M319.94 1604.62L325.83 1594.46L314.06 1594.46Z" fill="#2d6e2f"/>
<path d="M341.21 1597.45L347.1 1587.28L335.33 1587.28Z" fill="#2d6e2f"/>
<path d="M362.48 1587L368.36 1576.84L356.59 1576.84Z" fill="#2d6e2f"/>
<path d="M383.75 1579.17L389.63 1569.01L377.86 1569.01Z" fill="#2d6e2f"/>
<path d="M405.02 1578.52L410.9 1568.35L399.13 1568.35Z" fill="#2d6e2f"/>
<path d="M426.29 1571.99L432.17 1561.83L420.4 1561.83Z" fill="#2d6e2f"/>
<path d="M447.55 1568.73L453.44 1558.56L441.67 1558.56Z" fill="#2d6e2f"/>
<path d="M468.82 1568.08L474.71 1557.91L462.94 1557.91Z" fill="#2d6e2f"/>
<path d="M490.09 1566.77L495.98 1556.61L484.21 1556.61Z" fill="#2d6e2f"/>
<path d="M511.36 1566.12L517.24 1555.95L505.47 1555.95Z" fill="#2d6e2f"/>
<path d="M532.63 1564.81L538.51 1554.65L526.74 1554.65Z" fill="#2d6e2f"/>
<path d="M553.9 1564.81L559.78 1554.65L548.01 1554.65Z" fill="#2d6e2f"/>
<path d="M575.17 1563.51L581.05 1553.34L569.28 1553.34Z" fill="#2d6e2f"/>
<path d="M213.6 1726.9 L224.23 1715.15 L234.87 1707.97 L245.5 1703.4 L256.14 1674.68 L266.77 1684.47 L277.41 1620.51 L288.04 1636.18 L298.67 1609.42 L309.31 1600.93 L319.94 1602.89 L341.21 1607.46 L362.48 1609.42 L383.75 1604.2 L405.02 1596.36 L426.29 1589.19 L447.55 1581.35 L468.82 1575.48 L490.09 1570.91 L511.36 1569.61 L532.63 1567.65 L553.9 1568.3 L575.17 1565.69" fill="none" stroke="#652c70" stroke-width="3.2" stroke-linejoin="round"/>
<path d="M213.6 1720.26L218.2 1726.9L213.6 1733.53L209 1726.9Z" fill="#652c70"/>
<path d="M224.23 1708.52L228.84 1715.15L224.23 1721.78L219.63 1715.15Z" fill="#652c70"/>
<path d="M234.87 1701.34L239.47 1707.97L234.87 1714.6L230.27 1707.97Z" fill="#652c70"/>
<path d="M245.5 1696.77L250.1 1703.4L245.5 1710.04L240.9 1703.4Z" fill="#652c70"/>
<path d="M256.14 1668.05L260.74 1674.68L256.14 1681.32L251.54 1674.68Z" fill="#652c70"/>
<path d="M266.77 1677.84L271.37 1684.47L266.77 1691.11L262.17 1684.47Z" fill="#652c70"/>
<path d="M277.41 1613.88L282.01 1620.51L277.41 1627.15L272.8 1620.51Z" fill="#652c70"/>
<path d="M288.04 1629.54L292.64 1636.18L288.04 1642.81L283.44 1636.18Z" fill="#652c70"/>
<path d="M298.67 1602.78L303.28 1609.42L298.67 1616.05L294.07 1609.42Z" fill="#652c70"/>
<path d="M309.31 1594.3L313.91 1600.93L309.31 1607.57L304.71 1600.93Z" fill="#652c70"/>
<path d="M319.94 1596.26L324.54 1602.89L319.94 1609.53L315.34 1602.89Z" fill="#652c70"/>
<path d="M341.21 1600.83L345.81 1607.46L341.21 1614.09L336.61 1607.46Z" fill="#652c70"/>
<path d="M362.48 1602.78L367.08 1609.42L362.48 1616.05L357.88 1609.42Z" fill="#652c70"/>
<path d="M383.75 1597.56L388.35 1604.2L383.75 1610.83L379.15 1604.2Z" fill="#652c70"/>
<path d="M405.02 1589.73L409.62 1596.36L405.02 1603L400.42 1596.36Z" fill="#652c70"/>
<path d="M426.29 1582.55L430.89 1589.19L426.29 1595.82L421.68 1589.19Z" fill="#652c70"/>
<path d="M447.55 1574.72L452.16 1581.35L447.55 1587.99L442.95 1581.35Z" fill="#652c70"/>
<path d="M468.82 1568.85L473.42 1575.48L468.82 1582.11L464.22 1575.48Z" fill="#652c70"/>
<path d="M490.09 1564.28L494.69 1570.91L490.09 1577.54L485.49 1570.91Z" fill="#652c70"/>
<path d="M511.36 1562.97L515.96 1569.61L511.36 1576.24L506.76 1569.61Z" fill="#652c70"/>
<path d="M532.63 1561.01L537.23 1567.65L532.63 1574.28L528.03 1567.65Z" fill="#652c70"/>
<path d="M553.9 1561.67L558.5 1568.3L553.9 1574.93L549.3 1568.3Z" fill="#652c70"/>
<path d="M575.17 1559.06L579.77 1565.69L575.17 1572.32L570.56 1565.69Z" fill="#652c70"/>
<text x="213.6" y="1797.9" font-family="Liberation Serif, serif" font-size="27" text-anchor="middle" fill="#111">0</text>
<text x="266.77" y="1797.9" font-family="Liberation Serif, serif" font-size="27" text-anchor="middle" fill="#111">5</text>
<text x="319.94" y="1797.9" font-family="Liberation Serif, serif" font-size="27" text-anchor="middle" fill="#111">10</text>
<text x="373.11" y="1797.9" font-family="Liberation Serif, serif" font-size="27" text-anchor="middle" fill="#111">15</text>
<text x="426.29" y="1797.9" font-family="Liberation Serif, serif" font-size="27" text-anchor="middle" fill="#111">20</text>
<text x="479.46" y="1797.9" font-family="Liberation Serif, serif" font-size="27" text-anchor="middle" fill="#111">25</text>
<text x="532.63" y="1797.9" font-family="Liberation Serif, serif" font-size="27" text-anchor="middle" fill="#111">30</text>
<text x="585.8" y="1797.9" font-family="Liberation Serif, serif" font-size="27" text-anchor="middle" fill="#111">35</text>
<text x="201.8" y="1739.84" font-family="Liberation Serif, serif" font-size="27" text-anchor="end" fill="#111">-60</text>
<text x="201.8" y="1674.57" font-family="Liberation Serif, serif" font-size="27" text-anchor="end" fill="#111">-50</text>
<text x="201.8" y="1609.3" font-family="Liberation Serif, serif" font-size="27" text-anchor="end" fill="#111">-40</text>
<text x="201.8" y="1544.04" font-family="Liberation Serif, serif" font-size="27" text-anchor="end" fill="#111">-30</text>
<text x="201.8" y="1478.77" font-family="Liberation Serif, serif" font-size="27" text-anchor="end" fill="#111">-20</text>
<text x="399.7" y="1839.9" font-family="Liberation Serif, serif" font-size="27" text-anchor="middle" fill="#111">Time (d)</text>
<text transform="translate(154 1617.25) rotate(-90)" font-family="Liberation Serif, serif" font-size="27" text-anchor="middle" fill="#111">Δ<tspan font-style="italic">G</tspan> (KJ/mol)</text>
<text x="220.6" y="1499.6" font-family="Liberation Serif, serif" font-size="27" fill="#111">C</text>
<path d="M492 1644.6H532.5" stroke="#3f8fd4" stroke-width="3.2"/>
<rect x="507.97" y="1640.32" width="8.56" height="8.56" fill="#3f8fd4"/>
<text x="536.5" y="1650.55" font-family="Liberation Serif, serif" font-size="17.5" fill="#111" stroke="#111" stroke-width="0.45">A0</text>
<path d="M492 1665.9H532.5" stroke="#dd8e4e" stroke-width="3.2"/>
<circle cx="512.25" cy="1665.9" r="4.6" fill="#dd8e4e"/>
<text x="536.5" y="1671.85" font-family="Liberation Serif, serif" font-size="17.5" fill="#111" stroke="#111" stroke-width="0.45">A2.5</text>
<path d="M492 1687.2H532.5" stroke="#c8353d" stroke-width="3.2"/>
<path d="M512.25 1680.9L518.13 1691.06L506.37 1691.06Z" fill="#c8353d"/>
<text x="536.5" y="1693.15" font-family="Liberation Serif, serif" font-size="17.5" fill="#111" stroke="#111" stroke-width="0.45">A5</text>
<path d="M492 1708.5H532.5" stroke="#2d6e2f" stroke-width="3.2"/>
<path d="M512.25 1714.8L518.13 1704.64L506.37 1704.64Z" fill="#2d6e2f"/>
<text x="536.5" y="1714.45" font-family="Liberation Serif, serif" font-size="17.5" fill="#111" stroke="#111" stroke-width="0.45">A7.5</text>
<path d="M492 1729.8H532.5" stroke="#652c70" stroke-width="3.2"/>
<path d="M512.25 1723.17L516.85 1729.8L512.25 1736.43L507.65 1729.8Z" fill="#652c70"/>
<text x="536.5" y="1735.75" font-family="Liberation Serif, serif" font-size="17.5" fill="#111" stroke="#111" stroke-width="0.45">A10</text>
</g>
<g>
<rect x="758.1" y="1470.5" width="371.8" height="290.5" fill="none" stroke="#2b2b2b" stroke-width="2.9"/>
<path d="M804.58 1761V1753.5M851.05 1761V1750M897.53 1761V1753.5M944 1761V1750M990.48 1761V1753.5M1036.95 1761V1750M1083.43 1761V1753.5M758.1 1731.95H765.6M758.1 1702.9H769.1M758.1 1673.85H765.6M758.1 1644.8H769.1M758.1 1615.75H765.6M758.1 1586.7H769.1M758.1 1557.65H765.6M758.1 1528.6H769.1M758.1 1499.55H765.6" stroke="#2b2b2b" stroke-width="2.6" fill="none"/>
<path d="M758.1 1697.96 L804.58 1648.87 L851.05 1634.34 L897.53 1621.27 L944 1591.64 L990.48 1554.74 L1036.95 1496.35" fill="none" stroke="#3f8fd4" stroke-width="3.2" stroke-linejoin="round"/>
<rect x="753.82" y="1693.68" width="8.56" height="8.56" fill="#3f8fd4"/>
<rect x="800.3" y="1644.59" width="8.56" height="8.56" fill="#3f8fd4"/>
<rect x="846.77" y="1630.06" width="8.56" height="8.56" fill="#3f8fd4"/>
<rect x="893.25" y="1616.99" width="8.56" height="8.56" fill="#3f8fd4"/>
<rect x="939.72" y="1587.36" width="8.56" height="8.56" fill="#3f8fd4"/>
<rect x="986.2" y="1550.46" width="8.56" height="8.56" fill="#3f8fd4"/>
<rect x="1032.67" y="1492.07" width="8.56" height="8.56" fill="#3f8fd4"/>
<path d="M758.1 1697.96 L804.58 1656.71 L851.05 1642.77 L897.53 1629.11 L944 1604.42 L990.48 1561.43 L1036.95 1525.99" fill="none" stroke="#dd8e4e" stroke-width="3.2" stroke-linejoin="round"/>
<circle cx="758.1" cy="1697.96" r="4.6" fill="#dd8e4e"/>
<circle cx="804.58" cy="1656.71" r="4.6" fill="#dd8e4e"/>
<circle cx="851.05" cy="1642.77" r="4.6" fill="#dd8e4e"/>
<circle cx="897.53" cy="1629.11" r="4.6" fill="#dd8e4e"/>
<circle cx="944" cy="1604.42" r="4.6" fill="#dd8e4e"/>
<circle cx="990.48" cy="1561.43" r="4.6" fill="#dd8e4e"/>
<circle cx="1036.95" cy="1525.99" r="4.6" fill="#dd8e4e"/>
<path d="M758.1 1697.96 L804.58 1658.16 L851.05 1644.22 L897.53 1631.15 L944 1609.36 L990.48 1553 L1036.95 1542.54" fill="none" stroke="#c8353d" stroke-width="3.2" stroke-linejoin="round"/>
<path d="M758.1 1691.66L763.99 1701.82L752.22 1701.82Z" fill="#c8353d"/>
<path d="M804.58 1651.86L810.46 1662.03L798.69 1662.03Z" fill="#c8353d"/>
<path d="M851.05 1637.92L856.94 1648.08L845.17 1648.08Z" fill="#c8353d"/>
<path d="M897.53 1624.84L903.41 1635.01L891.64 1635.01Z" fill="#c8353d"/>
<path d="M944 1603.06L949.88 1613.22L938.12 1613.22Z" fill="#c8353d"/>
<path d="M990.48 1546.7L996.36 1556.86L984.59 1556.86Z" fill="#c8353d"/>
<path d="M1036.95 1536.24L1042.84 1546.41L1031.07 1546.41Z" fill="#c8353d"/>
<path d="M758.1 1697.96 L804.58 1660.49 L851.05 1645.67 L897.53 1634.34 L944 1615.46 L990.48 1602.68 L1036.95 1554.16 L1083.43 1526.86" fill="none" stroke="#2d6e2f" stroke-width="3.2" stroke-linejoin="round"/>
<path d="M758.1 1704.26L763.99 1694.1L752.22 1694.1Z" fill="#2d6e2f"/>
<path d="M804.58 1666.79L810.46 1656.62L798.69 1656.62Z" fill="#2d6e2f"/>
<path d="M851.05 1651.97L856.94 1641.81L845.17 1641.81Z" fill="#2d6e2f"/>
<path d="M897.53 1640.64L903.41 1630.48L891.64 1630.48Z" fill="#2d6e2f"/>
<path d="M944 1621.76L949.88 1611.6L938.12 1611.6Z" fill="#2d6e2f"/>
<path d="M990.48 1608.98L996.36 1598.81L984.59 1598.81Z" fill="#2d6e2f"/>
<path d="M1036.95 1560.47L1042.84 1550.3L1031.07 1550.3Z" fill="#2d6e2f"/>
<path d="M1083.43 1533.16L1089.31 1522.99L1077.54 1522.99Z" fill="#2d6e2f"/>
<path d="M758.1 1697.96 L804.58 1664.55 L851.05 1651.48 L897.53 1639.86 L944 1623.3 L990.48 1607.62 L1036.95 1588.73 L1083.43 1557.07" fill="none" stroke="#652c70" stroke-width="3.2" stroke-linejoin="round"/>
<path d="M758.1 1691.33L762.7 1697.96L758.1 1704.6L753.5 1697.96Z" fill="#652c70"/>
<path d="M804.58 1657.92L809.18 1664.55L804.58 1671.19L799.97 1664.55Z" fill="#652c70"/>
<path d="M851.05 1644.85L855.65 1651.48L851.05 1658.12L846.45 1651.48Z" fill="#652c70"/>
<path d="M897.53 1633.23L902.13 1639.86L897.53 1646.5L892.92 1639.86Z" fill="#652c70"/>
<path d="M944 1616.67L948.6 1623.3L944 1629.94L939.4 1623.3Z" fill="#652c70"/>
<path d="M990.48 1600.98L995.08 1607.62L990.48 1614.25L985.87 1607.62Z" fill="#652c70"/>
<path d="M1036.95 1582.1L1041.55 1588.73L1036.95 1595.37L1032.35 1588.73Z" fill="#652c70"/>
<path d="M1083.43 1550.43L1088.03 1557.07L1083.43 1563.7L1078.82 1557.07Z" fill="#652c70"/>
<text x="758.1" y="1794.1" font-family="Liberation Serif, serif" font-size="27" text-anchor="middle" fill="#111">0</text>
<text x="851.05" y="1794.1" font-family="Liberation Serif, serif" font-size="27" text-anchor="middle" fill="#111">1</text>
<text x="944" y="1794.1" font-family="Liberation Serif, serif" font-size="27" text-anchor="middle" fill="#111">2</text>
<text x="1036.95" y="1794.1" font-family="Liberation Serif, serif" font-size="27" text-anchor="middle" fill="#111">3</text>
<text x="1129.9" y="1794.1" font-family="Liberation Serif, serif" font-size="27" text-anchor="middle" fill="#111">4</text>
<text x="745.5" y="1769.37" font-family="Liberation Serif, serif" font-size="27" text-anchor="end" fill="#111">-120</text>
<text x="745.5" y="1711.27" font-family="Liberation Serif, serif" font-size="27" text-anchor="end" fill="#111">-100</text>
<text x="745.5" y="1653.17" font-family="Liberation Serif, serif" font-size="27" text-anchor="end" fill="#111">-80</text>
<text x="745.5" y="1595.07" font-family="Liberation Serif, serif" font-size="27" text-anchor="end" fill="#111">-60</text>
<text x="745.5" y="1536.97" font-family="Liberation Serif, serif" font-size="27" text-anchor="end" fill="#111">-40</text>
<text x="745.5" y="1478.87" font-family="Liberation Serif, serif" font-size="27" text-anchor="end" fill="#111">-20</text>
<text x="944" y="1837.6" font-family="Liberation Serif, serif" font-size="27" text-anchor="middle" fill="#111">Time (d)</text>
<text transform="translate(685 1615.75) rotate(-90)" font-family="Liberation Serif, serif" font-size="27" text-anchor="middle" fill="#111">Δ<tspan font-style="italic">G</tspan> (KJ/mol)</text>
<text x="764.3" y="1499.7" font-family="Liberation Serif, serif" font-size="27" fill="#111">D</text>
<path d="M1036 1644.1H1078.5" stroke="#3f8fd4" stroke-width="3.2"/>
<rect x="1052.97" y="1639.82" width="8.56" height="8.56" fill="#3f8fd4"/>
<text x="1081.5" y="1650.05" font-family="Liberation Serif, serif" font-size="17.5" fill="#111" stroke="#111" stroke-width="0.45">H0</text>
<path d="M1036 1665.75H1078.5" stroke="#dd8e4e" stroke-width="3.2"/>
<circle cx="1057.25" cy="1665.75" r="4.6" fill="#dd8e4e"/>
<text x="1081.5" y="1671.7" font-family="Liberation Serif, serif" font-size="17.5" fill="#111" stroke="#111" stroke-width="0.45">H2.5</text>
<path d="M1036 1687.4H1078.5" stroke="#c8353d" stroke-width="3.2"/>
<path d="M1057.25 1681.1L1063.13 1691.26L1051.37 1691.26Z" fill="#c8353d"/>
<text x="1081.5" y="1693.35" font-family="Liberation Serif, serif" font-size="17.5" fill="#111" stroke="#111" stroke-width="0.45">H5</text>
<path d="M1036 1709.05H1078.5" stroke="#2d6e2f" stroke-width="3.2"/>
<path d="M1057.25 1715.35L1063.13 1705.19L1051.37 1705.19Z" fill="#2d6e2f"/>
<text x="1081.5" y="1715" font-family="Liberation Serif, serif" font-size="17.5" fill="#111" stroke="#111" stroke-width="0.45">H7.5</text>
<path d="M1036 1730.7H1078.5" stroke="#652c70" stroke-width="3.2"/>
<path d="M1057.25 1724.07L1061.85 1730.7L1057.25 1737.33L1052.65 1730.7Z" fill="#652c70"/>
<text x="1081.5" y="1736.65" font-family="Liberation Serif, serif" font-size="17.5" fill="#111" stroke="#111" stroke-width="0.45">H10</text>
</g>
<text transform="translate(31.2 37) scale(1 1)" font-family="Liberation Sans, Noto Sans CJK SC, Noto Sans CJK JP, WenQuanYi Zen Hei, sans-serif" font-size="32" fill="#111">图</text>
<text transform="translate(72.5 37) scale(0.9 1)" font-family="Liberation Sans, Noto Sans CJK SC, Noto Sans CJK JP, WenQuanYi Zen Hei, sans-serif" font-size="34" fill="#111">3</text>
<text transform="translate(107 37) scale(1 1)" font-family="Liberation Sans, Noto Sans CJK SC, Noto Sans CJK JP, WenQuanYi Zen Hei, sans-serif" font-size="32" fill="#111">丁酸盐和丙酸盐的处理中，底物消耗</text>
<text transform="translate(618.5 37) scale(1 1)" font-family="Liberation Sans, Noto Sans CJK SC, Noto Sans CJK JP, WenQuanYi Zen Hei, sans-serif" font-size="32" fill="#111">（</text>
<text transform="translate(652.3 37) scale(0.9 1)" font-family="Liberation Sans, Noto Sans CJK SC, Noto Sans CJK JP, WenQuanYi Zen Hei, sans-serif" font-size="34" fill="#111">A</text>
<text transform="translate(681.2 37) scale(1 1)" font-family="Liberation Sans, Noto Sans CJK SC, Noto Sans CJK JP, WenQuanYi Zen Hei, sans-serif" font-size="32" fill="#111">和</text>
<text transform="translate(721.9 37) scale(0.9 1)" font-family="Liberation Sans, Noto Sans CJK SC, Noto Sans CJK JP, WenQuanYi Zen Hei, sans-serif" font-size="34" fill="#111">B</text>
<text transform="translate(742.4 37) scale(1 1)" font-family="Liberation Sans, Noto Sans CJK SC, Noto Sans CJK JP, WenQuanYi Zen Hei, sans-serif" font-size="32" fill="#111">）</text>
<text transform="translate(773.9 37) scale(1 1)" font-family="Liberation Sans, Noto Sans CJK SC, Noto Sans CJK JP, WenQuanYi Zen Hei, sans-serif" font-size="32" fill="#111">、</text>
<text transform="translate(800.6 37) scale(1 1)" font-family="Liberation Sans, Noto Sans CJK SC, Noto Sans CJK JP, WenQuanYi Zen Hei, sans-serif" font-size="32" fill="#111">中间产物动态</text>
<text transform="translate(990.8 37) scale(1 1)" font-family="Liberation Sans, Noto Sans CJK SC, Noto Sans CJK JP, WenQuanYi Zen Hei, sans-serif" font-size="32" fill="#111">（</text>
<text transform="translate(1023.5 37) scale(0.9 1)" font-family="Liberation Sans, Noto Sans CJK SC, Noto Sans CJK JP, WenQuanYi Zen Hei, sans-serif" font-size="34" fill="#111">C</text>
<text transform="translate(1053.6 37) scale(1 1)" font-family="Liberation Sans, Noto Sans CJK SC, Noto Sans CJK JP, WenQuanYi Zen Hei, sans-serif" font-size="32" fill="#111">和</text>
<text transform="translate(1093.7 37) scale(0.9 1)" font-family="Liberation Sans, Noto Sans CJK SC, Noto Sans CJK JP, WenQuanYi Zen Hei, sans-serif" font-size="34" fill="#111">D</text>
<text transform="translate(1117 37) scale(1 1)" font-family="Liberation Sans, Noto Sans CJK SC, Noto Sans CJK JP, WenQuanYi Zen Hei, sans-serif" font-size="32" fill="#111">）</text>
<text transform="translate(1145.7 37) scale(1 1)" font-family="Liberation Sans, Noto Sans CJK SC, Noto Sans CJK JP, WenQuanYi Zen Hei, sans-serif" font-size="32" fill="#111">和</text>
<text transform="translate(1183 37) scale(0.9 1)" font-family="Liberation Sans, Noto Sans CJK SC, Noto Sans CJK JP, WenQuanYi Zen Hei, sans-serif" font-size="34" fill="#111">C</text>
<text transform="translate(1207.6 37) scale(0.9 1)" font-family="Liberation Sans, Noto Sans CJK SC, Noto Sans CJK JP, WenQuanYi Zen Hei, sans-serif" font-size="34" fill="#111">H</text>
<text transform="translate(1231.2 37) scale(0.9 1)" font-family="Liberation Sans, Noto Sans CJK SC, Noto Sans CJK JP, WenQuanYi Zen Hei, sans-serif" font-size="34" fill="#111">4</text>
<text transform="translate(500.3 99.8) scale(1 1)" font-family="Liberation Sans, Noto Sans CJK SC, Noto Sans CJK JP, WenQuanYi Zen Hei, sans-serif" font-size="32" fill="#111">产量</text>
<text transform="translate(564.1 99.8) scale(1 1)" font-family="Liberation Sans, Noto Sans CJK SC, Noto Sans CJK JP, WenQuanYi Zen Hei, sans-serif" font-size="32" fill="#111">（</text>
<text transform="translate(598 99.8) scale(0.9 1)" font-family="Liberation Sans, Noto Sans CJK SC, Noto Sans CJK JP, WenQuanYi Zen Hei, sans-serif" font-size="34" fill="#111">E</text>
<text transform="translate(625.8 99.8) scale(1 1)" font-family="Liberation Sans, Noto Sans CJK SC, Noto Sans CJK JP, WenQuanYi Zen Hei, sans-serif" font-size="32" fill="#111">和</text>
<text transform="translate(665.5 99.8) scale(0.9 1)" font-family="Liberation Sans, Noto Sans CJK SC, Noto Sans CJK JP, WenQuanYi Zen Hei, sans-serif" font-size="34" fill="#111">F</text>
<text transform="translate(686.3 99.8) scale(1 1)" font-family="Liberation Sans, Noto Sans CJK SC, Noto Sans CJK JP, WenQuanYi Zen Hei, sans-serif" font-size="32" fill="#111">）</text>
<text transform="translate(90.9 973.6) scale(1 1)" font-family="Liberation Sans, Noto Sans CJK SC, Noto Sans CJK JP, WenQuanYi Zen Hei, sans-serif" font-size="32" fill="#111">图</text>
<text transform="translate(131 973.6) scale(0.9 1)" font-family="Liberation Sans, Noto Sans CJK SC, Noto Sans CJK JP, WenQuanYi Zen Hei, sans-serif" font-size="34" fill="#111">4</text>
<text transform="translate(165.4 973.6) scale(1 1)" font-family="Liberation Sans, Noto Sans CJK SC, Noto Sans CJK JP, WenQuanYi Zen Hei, sans-serif" font-size="32" fill="#111">乙酸盐和</text>
<text transform="translate(305.1 973.6) scale(0.9 1)" font-family="Liberation Sans, Noto Sans CJK SC, Noto Sans CJK JP, WenQuanYi Zen Hei, sans-serif" font-size="34" fill="#111">H</text>
<text transform="translate(328.7 975.8) scale(0.95 1)" font-family="Liberation Sans, Noto Sans CJK SC, Noto Sans CJK JP, WenQuanYi Zen Hei, sans-serif" font-size="21" fill="#111">2</text>
<text transform="translate(341.3 973.6) scale(0.9 1)" font-family="Liberation Sans, Noto Sans CJK SC, Noto Sans CJK JP, WenQuanYi Zen Hei, sans-serif" font-size="34" fill="#111">/</text>
<text transform="translate(353 973.6) scale(0.9 1)" font-family="Liberation Sans, Noto Sans CJK SC, Noto Sans CJK JP, WenQuanYi Zen Hei, sans-serif" font-size="34" fill="#111">C</text>
<text transform="translate(376.1 973.6) scale(0.9 1)" font-family="Liberation Sans, Noto Sans CJK SC, Noto Sans CJK JP, WenQuanYi Zen Hei, sans-serif" font-size="34" fill="#111">O</text>
<text transform="translate(399.3 975.8) scale(0.95 1)" font-family="Liberation Sans, Noto Sans CJK SC, Noto Sans CJK JP, WenQuanYi Zen Hei, sans-serif" font-size="21" fill="#111">2</text>
<text transform="translate(414.8 973.6) scale(1 1)" font-family="Liberation Sans, Noto Sans CJK SC, Noto Sans CJK JP, WenQuanYi Zen Hei, sans-serif" font-size="32" fill="#111">的处理中，底物消耗</text>
<text transform="translate(706.2 973.6) scale(1 1)" font-family="Liberation Sans, Noto Sans CJK SC, Noto Sans CJK JP, WenQuanYi Zen Hei, sans-serif" font-size="32" fill="#111">（</text>
<text transform="translate(741 973.6) scale(0.9 1)" font-family="Liberation Sans, Noto Sans CJK SC, Noto Sans CJK JP, WenQuanYi Zen Hei, sans-serif" font-size="34" fill="#111">A</text>
<text transform="translate(769.7 973.6) scale(1 1)" font-family="Liberation Sans, Noto Sans CJK SC, Noto Sans CJK JP, WenQuanYi Zen Hei, sans-serif" font-size="32" fill="#111">和</text>
<text transform="translate(807 973.6) scale(0.9 1)" font-family="Liberation Sans, Noto Sans CJK SC, Noto Sans CJK JP, WenQuanYi Zen Hei, sans-serif" font-size="34" fill="#111">B</text>
<text transform="translate(832.5 973.6) scale(1 1)" font-family="Liberation Sans, Noto Sans CJK SC, Noto Sans CJK JP, WenQuanYi Zen Hei, sans-serif" font-size="32" fill="#111">）</text>
<text transform="translate(864.5 973.6) scale(1 1)" font-family="Liberation Sans, Noto Sans CJK SC, Noto Sans CJK JP, WenQuanYi Zen Hei, sans-serif" font-size="32" fill="#111">和</text>
<text transform="translate(904.6 973.6) scale(0.9 1)" font-family="Liberation Sans, Noto Sans CJK SC, Noto Sans CJK JP, WenQuanYi Zen Hei, sans-serif" font-size="34" fill="#111">C</text>
<text transform="translate(927.3 973.6) scale(0.9 1)" font-family="Liberation Sans, Noto Sans CJK SC, Noto Sans CJK JP, WenQuanYi Zen Hei, sans-serif" font-size="34" fill="#111">H</text>
<text transform="translate(949 975.8) scale(0.95 1)" font-family="Liberation Sans, Noto Sans CJK SC, Noto Sans CJK JP, WenQuanYi Zen Hei, sans-serif" font-size="21" fill="#111">4</text>
<text transform="translate(968 973.6) scale(1 1)" font-family="Liberation Sans, Noto Sans CJK SC, Noto Sans CJK JP, WenQuanYi Zen Hei, sans-serif" font-size="32" fill="#111">产量</text>
<text transform="translate(1032 973.6) scale(1 1)" font-family="Liberation Sans, Noto Sans CJK SC, Noto Sans CJK JP, WenQuanYi Zen Hei, sans-serif" font-size="32" fill="#111">（</text>
<text transform="translate(1064.8 973.6) scale(0.9 1)" font-family="Liberation Sans, Noto Sans CJK SC, Noto Sans CJK JP, WenQuanYi Zen Hei, sans-serif" font-size="34" fill="#111">C</text>
<text transform="translate(1094 973.6) scale(1 1)" font-family="Liberation Sans, Noto Sans CJK SC, Noto Sans CJK JP, WenQuanYi Zen Hei, sans-serif" font-size="32" fill="#111">和</text>
<text transform="translate(1132.8 973.6) scale(0.9 1)" font-family="Liberation Sans, Noto Sans CJK SC, Noto Sans CJK JP, WenQuanYi Zen Hei, sans-serif" font-size="34" fill="#111">D</text>
<text transform="translate(1159.7 973.6) scale(1 1)" font-family="Liberation Sans, Noto Sans CJK SC, Noto Sans CJK JP, WenQuanYi Zen Hei, sans-serif" font-size="32" fill="#111">）</text>
</svg>
<div style="position:absolute;left:1249px;top:-4.5px;width:30px;height:6px;border:1.5px solid #8a8a8a;box-shadow:2px 1px 0 #ccc;"></div>
</body></html>
